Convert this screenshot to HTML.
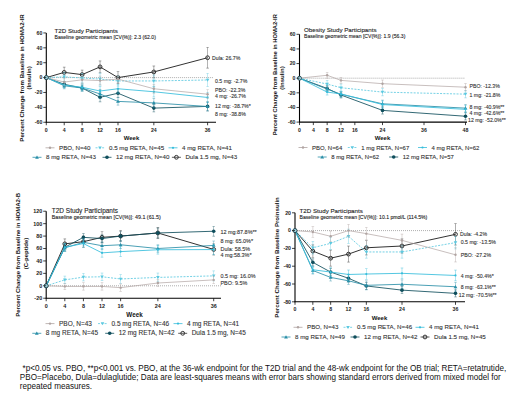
<!DOCTYPE html>
<html><head><meta charset="utf-8"><style>
html,body{margin:0;padding:0;background:#fff;}
body{width:520px;height:400px;overflow:hidden;position:relative;font-family:"Liberation Sans", sans-serif;}
svg{position:absolute;left:0;top:0;}
svg text{font-family:"Liberation Sans", sans-serif;}
.fn{position:absolute;font-size:8.15px;line-height:9.6px;color:#111;white-space:nowrap;}
</style></head><body>
<svg width="520" height="400" viewBox="0 0 520 400">
<rect width="520" height="400" fill="#fff"/>
<line x1="46.30" y1="77.60" x2="213.00" y2="77.60" stroke="#555" stroke-width="0.6" stroke-dasharray="0.8,1.2"/>
<line x1="64.22" y1="67.18" x2="64.22" y2="77.60" stroke="#333333" stroke-width="0.5" opacity="0.8"/>
<line x1="62.92" y1="67.18" x2="65.52" y2="67.18" stroke="#333333" stroke-width="0.5" opacity="0.8"/>
<line x1="62.92" y1="77.60" x2="65.52" y2="77.60" stroke="#333333" stroke-width="0.5" opacity="0.8"/>
<line x1="82.14" y1="70.16" x2="82.14" y2="79.09" stroke="#333333" stroke-width="0.5" opacity="0.8"/>
<line x1="80.84" y1="70.16" x2="83.44" y2="70.16" stroke="#333333" stroke-width="0.5" opacity="0.8"/>
<line x1="80.84" y1="79.09" x2="83.44" y2="79.09" stroke="#333333" stroke-width="0.5" opacity="0.8"/>
<line x1="100.07" y1="60.93" x2="100.07" y2="72.84" stroke="#333333" stroke-width="0.5" opacity="0.8"/>
<line x1="98.77" y1="60.93" x2="101.37" y2="60.93" stroke="#333333" stroke-width="0.5" opacity="0.8"/>
<line x1="98.77" y1="72.84" x2="101.37" y2="72.84" stroke="#333333" stroke-width="0.5" opacity="0.8"/>
<line x1="117.99" y1="71.65" x2="117.99" y2="83.55" stroke="#333333" stroke-width="0.5" opacity="0.8"/>
<line x1="116.69" y1="71.65" x2="119.29" y2="71.65" stroke="#333333" stroke-width="0.5" opacity="0.8"/>
<line x1="116.69" y1="83.55" x2="119.29" y2="83.55" stroke="#333333" stroke-width="0.5" opacity="0.8"/>
<line x1="153.83" y1="65.99" x2="153.83" y2="77.90" stroke="#333333" stroke-width="0.5" opacity="0.8"/>
<line x1="152.53" y1="65.99" x2="155.13" y2="65.99" stroke="#333333" stroke-width="0.5" opacity="0.8"/>
<line x1="152.53" y1="77.90" x2="155.13" y2="77.90" stroke="#333333" stroke-width="0.5" opacity="0.8"/>
<line x1="207.60" y1="47.31" x2="207.60" y2="68.15" stroke="#333333" stroke-width="0.5" opacity="0.8"/>
<line x1="206.30" y1="47.31" x2="208.90" y2="47.31" stroke="#333333" stroke-width="0.5" opacity="0.8"/>
<line x1="206.30" y1="68.15" x2="208.90" y2="68.15" stroke="#333333" stroke-width="0.5" opacity="0.8"/>
<polyline points="46.30,77.60 64.22,72.39 82.14,74.62 100.07,66.88 117.99,77.60 153.83,71.94 207.60,57.73" fill="none" stroke="#333333" stroke-width="1.0"/>
<circle cx="46.30" cy="77.60" r="1.9" fill="none" stroke="#333333" stroke-width="1.0"/>
<circle cx="64.22" cy="72.39" r="1.9" fill="none" stroke="#333333" stroke-width="1.0"/>
<circle cx="82.14" cy="74.62" r="1.9" fill="none" stroke="#333333" stroke-width="1.0"/>
<circle cx="100.07" cy="66.88" r="1.9" fill="none" stroke="#333333" stroke-width="1.0"/>
<circle cx="117.99" cy="77.60" r="1.9" fill="none" stroke="#333333" stroke-width="1.0"/>
<circle cx="153.83" cy="71.94" r="1.9" fill="none" stroke="#333333" stroke-width="1.0"/>
<circle cx="207.60" cy="57.73" r="1.9" fill="none" stroke="#333333" stroke-width="1.0"/>
<line x1="64.22" y1="81.32" x2="64.22" y2="87.27" stroke="#0f4e5c" stroke-width="0.5" opacity="0.8"/>
<line x1="62.92" y1="81.32" x2="65.52" y2="81.32" stroke="#0f4e5c" stroke-width="0.5" opacity="0.8"/>
<line x1="62.92" y1="87.27" x2="65.52" y2="87.27" stroke="#0f4e5c" stroke-width="0.5" opacity="0.8"/>
<line x1="82.14" y1="85.04" x2="82.14" y2="90.99" stroke="#0f4e5c" stroke-width="0.5" opacity="0.8"/>
<line x1="80.84" y1="85.04" x2="83.44" y2="85.04" stroke="#0f4e5c" stroke-width="0.5" opacity="0.8"/>
<line x1="80.84" y1="90.99" x2="83.44" y2="90.99" stroke="#0f4e5c" stroke-width="0.5" opacity="0.8"/>
<line x1="100.07" y1="92.86" x2="100.07" y2="101.79" stroke="#0f4e5c" stroke-width="0.5" opacity="0.8"/>
<line x1="98.77" y1="92.86" x2="101.37" y2="92.86" stroke="#0f4e5c" stroke-width="0.5" opacity="0.8"/>
<line x1="98.77" y1="101.79" x2="101.37" y2="101.79" stroke="#0f4e5c" stroke-width="0.5" opacity="0.8"/>
<line x1="117.99" y1="88.76" x2="117.99" y2="97.69" stroke="#0f4e5c" stroke-width="0.5" opacity="0.8"/>
<line x1="116.69" y1="88.76" x2="119.29" y2="88.76" stroke="#0f4e5c" stroke-width="0.5" opacity="0.8"/>
<line x1="116.69" y1="97.69" x2="119.29" y2="97.69" stroke="#0f4e5c" stroke-width="0.5" opacity="0.8"/>
<line x1="153.83" y1="104.39" x2="153.83" y2="111.83" stroke="#0f4e5c" stroke-width="0.5" opacity="0.8"/>
<line x1="152.53" y1="104.39" x2="155.13" y2="104.39" stroke="#0f4e5c" stroke-width="0.5" opacity="0.8"/>
<line x1="152.53" y1="111.83" x2="155.13" y2="111.83" stroke="#0f4e5c" stroke-width="0.5" opacity="0.8"/>
<line x1="207.60" y1="101.93" x2="207.60" y2="110.86" stroke="#0f4e5c" stroke-width="0.5" opacity="0.8"/>
<line x1="206.30" y1="101.93" x2="208.90" y2="101.93" stroke="#0f4e5c" stroke-width="0.5" opacity="0.8"/>
<line x1="206.30" y1="110.86" x2="208.90" y2="110.86" stroke="#0f4e5c" stroke-width="0.5" opacity="0.8"/>
<polyline points="46.30,77.60 64.22,84.30 82.14,88.02 100.07,97.32 117.99,93.23 153.83,108.11 207.60,106.40" fill="none" stroke="#0f4e5c" stroke-width="0.85"/>
<circle cx="46.30" cy="77.60" r="1.8" fill="#0f4e5c"/>
<circle cx="64.22" cy="84.30" r="1.8" fill="#0f4e5c"/>
<circle cx="82.14" cy="88.02" r="1.8" fill="#0f4e5c"/>
<circle cx="100.07" cy="97.32" r="1.8" fill="#0f4e5c"/>
<circle cx="117.99" cy="93.23" r="1.8" fill="#0f4e5c"/>
<circle cx="153.83" cy="108.11" r="1.8" fill="#0f4e5c"/>
<circle cx="207.60" cy="106.40" r="1.8" fill="#0f4e5c"/>
<line x1="64.22" y1="82.81" x2="64.22" y2="88.76" stroke="#2a8fa8" stroke-width="0.5" opacity="0.8"/>
<line x1="62.92" y1="82.81" x2="65.52" y2="82.81" stroke="#2a8fa8" stroke-width="0.5" opacity="0.8"/>
<line x1="62.92" y1="88.76" x2="65.52" y2="88.76" stroke="#2a8fa8" stroke-width="0.5" opacity="0.8"/>
<line x1="82.14" y1="85.04" x2="82.14" y2="90.99" stroke="#2a8fa8" stroke-width="0.5" opacity="0.8"/>
<line x1="80.84" y1="85.04" x2="83.44" y2="85.04" stroke="#2a8fa8" stroke-width="0.5" opacity="0.8"/>
<line x1="80.84" y1="90.99" x2="83.44" y2="90.99" stroke="#2a8fa8" stroke-width="0.5" opacity="0.8"/>
<line x1="100.07" y1="89.51" x2="100.07" y2="98.44" stroke="#2a8fa8" stroke-width="0.5" opacity="0.8"/>
<line x1="98.77" y1="89.51" x2="101.37" y2="89.51" stroke="#2a8fa8" stroke-width="0.5" opacity="0.8"/>
<line x1="98.77" y1="98.44" x2="101.37" y2="98.44" stroke="#2a8fa8" stroke-width="0.5" opacity="0.8"/>
<line x1="117.99" y1="97.69" x2="117.99" y2="105.13" stroke="#2a8fa8" stroke-width="0.5" opacity="0.8"/>
<line x1="116.69" y1="97.69" x2="119.29" y2="97.69" stroke="#2a8fa8" stroke-width="0.5" opacity="0.8"/>
<line x1="116.69" y1="105.13" x2="119.29" y2="105.13" stroke="#2a8fa8" stroke-width="0.5" opacity="0.8"/>
<line x1="153.83" y1="98.44" x2="153.83" y2="107.37" stroke="#2a8fa8" stroke-width="0.5" opacity="0.8"/>
<line x1="152.53" y1="98.44" x2="155.13" y2="98.44" stroke="#2a8fa8" stroke-width="0.5" opacity="0.8"/>
<line x1="152.53" y1="107.37" x2="155.13" y2="107.37" stroke="#2a8fa8" stroke-width="0.5" opacity="0.8"/>
<line x1="207.60" y1="102.01" x2="207.60" y2="110.94" stroke="#2a8fa8" stroke-width="0.5" opacity="0.8"/>
<line x1="206.30" y1="102.01" x2="208.90" y2="102.01" stroke="#2a8fa8" stroke-width="0.5" opacity="0.8"/>
<line x1="206.30" y1="110.94" x2="208.90" y2="110.94" stroke="#2a8fa8" stroke-width="0.5" opacity="0.8"/>
<polyline points="46.30,77.60 64.22,85.79 82.14,88.02 100.07,93.97 117.99,101.41 153.83,102.90 207.60,106.47" fill="none" stroke="#2a8fa8" stroke-width="0.85"/>
<path d="M44.40,79.00 L48.20,79.00 L46.30,75.80 Z" fill="#2a8fa8"/>
<path d="M62.32,87.19 L66.12,87.19 L64.22,83.99 Z" fill="#2a8fa8"/>
<path d="M80.24,89.42 L84.04,89.42 L82.14,86.22 Z" fill="#2a8fa8"/>
<path d="M98.17,95.37 L101.97,95.37 L100.07,92.17 Z" fill="#2a8fa8"/>
<path d="M116.09,102.81 L119.89,102.81 L117.99,99.61 Z" fill="#2a8fa8"/>
<path d="M151.93,104.30 L155.73,104.30 L153.83,101.10 Z" fill="#2a8fa8"/>
<path d="M205.70,107.87 L209.50,107.87 L207.60,104.67 Z" fill="#2a8fa8"/>
<line x1="64.22" y1="82.06" x2="64.22" y2="88.02" stroke="#35bddb" stroke-width="0.5" opacity="0.8"/>
<line x1="62.92" y1="82.06" x2="65.52" y2="82.06" stroke="#35bddb" stroke-width="0.5" opacity="0.8"/>
<line x1="62.92" y1="88.02" x2="65.52" y2="88.02" stroke="#35bddb" stroke-width="0.5" opacity="0.8"/>
<line x1="82.14" y1="83.55" x2="82.14" y2="90.99" stroke="#35bddb" stroke-width="0.5" opacity="0.8"/>
<line x1="80.84" y1="83.55" x2="83.44" y2="83.55" stroke="#35bddb" stroke-width="0.5" opacity="0.8"/>
<line x1="80.84" y1="90.99" x2="83.44" y2="90.99" stroke="#35bddb" stroke-width="0.5" opacity="0.8"/>
<line x1="100.07" y1="86.53" x2="100.07" y2="95.46" stroke="#35bddb" stroke-width="0.5" opacity="0.8"/>
<line x1="98.77" y1="86.53" x2="101.37" y2="86.53" stroke="#35bddb" stroke-width="0.5" opacity="0.8"/>
<line x1="98.77" y1="95.46" x2="101.37" y2="95.46" stroke="#35bddb" stroke-width="0.5" opacity="0.8"/>
<line x1="117.99" y1="84.30" x2="117.99" y2="93.23" stroke="#35bddb" stroke-width="0.5" opacity="0.8"/>
<line x1="116.69" y1="84.30" x2="119.29" y2="84.30" stroke="#35bddb" stroke-width="0.5" opacity="0.8"/>
<line x1="116.69" y1="93.23" x2="119.29" y2="93.23" stroke="#35bddb" stroke-width="0.5" opacity="0.8"/>
<line x1="153.83" y1="86.53" x2="153.83" y2="96.95" stroke="#35bddb" stroke-width="0.5" opacity="0.8"/>
<line x1="152.53" y1="86.53" x2="155.13" y2="86.53" stroke="#35bddb" stroke-width="0.5" opacity="0.8"/>
<line x1="152.53" y1="96.95" x2="155.13" y2="96.95" stroke="#35bddb" stroke-width="0.5" opacity="0.8"/>
<line x1="207.60" y1="92.26" x2="207.60" y2="102.68" stroke="#35bddb" stroke-width="0.5" opacity="0.8"/>
<line x1="206.30" y1="92.26" x2="208.90" y2="92.26" stroke="#35bddb" stroke-width="0.5" opacity="0.8"/>
<line x1="206.30" y1="102.68" x2="208.90" y2="102.68" stroke="#35bddb" stroke-width="0.5" opacity="0.8"/>
<polyline points="46.30,77.60 64.22,85.04 82.14,87.27 100.07,90.99 117.99,88.76 153.83,91.74 207.60,97.47" fill="none" stroke="#35bddb" stroke-width="0.85"/>
<circle cx="46.30" cy="77.60" r="1.1" fill="#35bddb"/>
<circle cx="64.22" cy="85.04" r="1.1" fill="#35bddb"/>
<circle cx="82.14" cy="87.27" r="1.1" fill="#35bddb"/>
<circle cx="100.07" cy="90.99" r="1.1" fill="#35bddb"/>
<circle cx="117.99" cy="88.76" r="1.1" fill="#35bddb"/>
<circle cx="153.83" cy="91.74" r="1.1" fill="#35bddb"/>
<circle cx="207.60" cy="97.47" r="1.1" fill="#35bddb"/>
<line x1="64.22" y1="72.39" x2="64.22" y2="81.32" stroke="#5cc9e0" stroke-width="0.5" opacity="0.8"/>
<line x1="62.92" y1="72.39" x2="65.52" y2="72.39" stroke="#5cc9e0" stroke-width="0.5" opacity="0.8"/>
<line x1="62.92" y1="81.32" x2="65.52" y2="81.32" stroke="#5cc9e0" stroke-width="0.5" opacity="0.8"/>
<line x1="82.14" y1="73.51" x2="82.14" y2="82.44" stroke="#5cc9e0" stroke-width="0.5" opacity="0.8"/>
<line x1="80.84" y1="73.51" x2="83.44" y2="73.51" stroke="#5cc9e0" stroke-width="0.5" opacity="0.8"/>
<line x1="80.84" y1="82.44" x2="83.44" y2="82.44" stroke="#5cc9e0" stroke-width="0.5" opacity="0.8"/>
<line x1="100.07" y1="73.13" x2="100.07" y2="85.04" stroke="#5cc9e0" stroke-width="0.5" opacity="0.8"/>
<line x1="98.77" y1="73.13" x2="101.37" y2="73.13" stroke="#5cc9e0" stroke-width="0.5" opacity="0.8"/>
<line x1="98.77" y1="85.04" x2="101.37" y2="85.04" stroke="#5cc9e0" stroke-width="0.5" opacity="0.8"/>
<line x1="117.99" y1="75.74" x2="117.99" y2="86.16" stroke="#5cc9e0" stroke-width="0.5" opacity="0.8"/>
<line x1="116.69" y1="75.74" x2="119.29" y2="75.74" stroke="#5cc9e0" stroke-width="0.5" opacity="0.8"/>
<line x1="116.69" y1="86.16" x2="119.29" y2="86.16" stroke="#5cc9e0" stroke-width="0.5" opacity="0.8"/>
<line x1="153.83" y1="75.00" x2="153.83" y2="86.90" stroke="#5cc9e0" stroke-width="0.5" opacity="0.8"/>
<line x1="152.53" y1="75.00" x2="155.13" y2="75.00" stroke="#5cc9e0" stroke-width="0.5" opacity="0.8"/>
<line x1="152.53" y1="86.90" x2="155.13" y2="86.90" stroke="#5cc9e0" stroke-width="0.5" opacity="0.8"/>
<line x1="207.60" y1="73.28" x2="207.60" y2="86.68" stroke="#5cc9e0" stroke-width="0.5" opacity="0.8"/>
<line x1="206.30" y1="73.28" x2="208.90" y2="73.28" stroke="#5cc9e0" stroke-width="0.5" opacity="0.8"/>
<line x1="206.30" y1="86.68" x2="208.90" y2="86.68" stroke="#5cc9e0" stroke-width="0.5" opacity="0.8"/>
<polyline points="46.30,77.60 64.22,76.86 82.14,77.97 100.07,79.09 117.99,80.95 153.83,80.95 207.60,79.98" fill="none" stroke="#5cc9e0" stroke-width="0.85" stroke-dasharray="2,1.3"/>
<path d="M44.50,76.30 L48.10,76.30 L46.30,79.30 Z" fill="#5cc9e0"/>
<path d="M62.42,75.56 L66.02,75.56 L64.22,78.56 Z" fill="#5cc9e0"/>
<path d="M80.34,76.67 L83.94,76.67 L82.14,79.67 Z" fill="#5cc9e0"/>
<path d="M98.27,77.79 L101.87,77.79 L100.07,80.79 Z" fill="#5cc9e0"/>
<path d="M116.19,79.65 L119.79,79.65 L117.99,82.65 Z" fill="#5cc9e0"/>
<path d="M152.03,79.65 L155.63,79.65 L153.83,82.65 Z" fill="#5cc9e0"/>
<path d="M205.80,78.68 L209.40,78.68 L207.60,81.68 Z" fill="#5cc9e0"/>
<line x1="64.22" y1="78.34" x2="64.22" y2="85.79" stroke="#b0a4a2" stroke-width="0.5" opacity="0.8"/>
<line x1="62.92" y1="78.34" x2="65.52" y2="78.34" stroke="#b0a4a2" stroke-width="0.5" opacity="0.8"/>
<line x1="62.92" y1="85.79" x2="65.52" y2="85.79" stroke="#b0a4a2" stroke-width="0.5" opacity="0.8"/>
<line x1="82.14" y1="76.11" x2="82.14" y2="83.55" stroke="#b0a4a2" stroke-width="0.5" opacity="0.8"/>
<line x1="80.84" y1="76.11" x2="83.44" y2="76.11" stroke="#b0a4a2" stroke-width="0.5" opacity="0.8"/>
<line x1="80.84" y1="83.55" x2="83.44" y2="83.55" stroke="#b0a4a2" stroke-width="0.5" opacity="0.8"/>
<line x1="100.07" y1="76.11" x2="100.07" y2="85.04" stroke="#b0a4a2" stroke-width="0.5" opacity="0.8"/>
<line x1="98.77" y1="76.11" x2="101.37" y2="76.11" stroke="#b0a4a2" stroke-width="0.5" opacity="0.8"/>
<line x1="98.77" y1="85.04" x2="101.37" y2="85.04" stroke="#b0a4a2" stroke-width="0.5" opacity="0.8"/>
<line x1="117.99" y1="75.37" x2="117.99" y2="82.81" stroke="#b0a4a2" stroke-width="0.5" opacity="0.8"/>
<line x1="116.69" y1="75.37" x2="119.29" y2="75.37" stroke="#b0a4a2" stroke-width="0.5" opacity="0.8"/>
<line x1="116.69" y1="82.81" x2="119.29" y2="82.81" stroke="#b0a4a2" stroke-width="0.5" opacity="0.8"/>
<line x1="153.83" y1="84.30" x2="153.83" y2="93.23" stroke="#b0a4a2" stroke-width="0.5" opacity="0.8"/>
<line x1="152.53" y1="84.30" x2="155.13" y2="84.30" stroke="#b0a4a2" stroke-width="0.5" opacity="0.8"/>
<line x1="152.53" y1="93.23" x2="155.13" y2="93.23" stroke="#b0a4a2" stroke-width="0.5" opacity="0.8"/>
<line x1="207.60" y1="89.73" x2="207.60" y2="98.66" stroke="#b0a4a2" stroke-width="0.5" opacity="0.8"/>
<line x1="206.30" y1="89.73" x2="208.90" y2="89.73" stroke="#b0a4a2" stroke-width="0.5" opacity="0.8"/>
<line x1="206.30" y1="98.66" x2="208.90" y2="98.66" stroke="#b0a4a2" stroke-width="0.5" opacity="0.8"/>
<polyline points="46.30,77.60 64.22,82.06 82.14,79.83 100.07,80.58 117.99,79.09 153.83,88.76 207.60,94.19" fill="none" stroke="#b0a4a2" stroke-width="0.7"/>
<circle cx="46.30" cy="77.60" r="1.2" fill="#b0a4a2"/>
<circle cx="64.22" cy="82.06" r="1.2" fill="#b0a4a2"/>
<circle cx="82.14" cy="79.83" r="1.2" fill="#b0a4a2"/>
<circle cx="100.07" cy="80.58" r="1.2" fill="#b0a4a2"/>
<circle cx="117.99" cy="79.09" r="1.2" fill="#b0a4a2"/>
<circle cx="153.83" cy="88.76" r="1.2" fill="#b0a4a2"/>
<circle cx="207.60" cy="94.19" r="1.2" fill="#b0a4a2"/>
<line x1="46.30" y1="32.95" x2="46.30" y2="122.75" stroke="#000" stroke-width="1.1"/>
<line x1="45.80" y1="122.25" x2="216.00" y2="122.25" stroke="#000" stroke-width="1.1"/>
<circle cx="46.30" cy="77.60" r="2.0" fill="#a3d6e2" stroke="#1d3f4a" stroke-width="0.8"/>
<line x1="43.30" y1="122.25" x2="46.30" y2="122.25" stroke="#111" stroke-width="0.8"/>
<text x="42.30" y="124.05" font-size="5.2" text-anchor="end" font-weight="bold" fill="#222" >-60</text>
<line x1="43.30" y1="107.37" x2="46.30" y2="107.37" stroke="#111" stroke-width="0.8"/>
<text x="42.30" y="109.17" font-size="5.2" text-anchor="end" font-weight="bold" fill="#222" >-40</text>
<line x1="43.30" y1="92.48" x2="46.30" y2="92.48" stroke="#111" stroke-width="0.8"/>
<text x="42.30" y="94.28" font-size="5.2" text-anchor="end" font-weight="bold" fill="#222" >-20</text>
<line x1="43.30" y1="77.60" x2="46.30" y2="77.60" stroke="#111" stroke-width="0.8"/>
<text x="42.30" y="79.40" font-size="5.2" text-anchor="end" font-weight="bold" fill="#222" >0</text>
<line x1="43.30" y1="62.72" x2="46.30" y2="62.72" stroke="#111" stroke-width="0.8"/>
<text x="42.30" y="64.52" font-size="5.2" text-anchor="end" font-weight="bold" fill="#222" >20</text>
<line x1="43.30" y1="47.83" x2="46.30" y2="47.83" stroke="#111" stroke-width="0.8"/>
<text x="42.30" y="49.63" font-size="5.2" text-anchor="end" font-weight="bold" fill="#222" >40</text>
<line x1="43.30" y1="32.95" x2="46.30" y2="32.95" stroke="#111" stroke-width="0.8"/>
<text x="42.30" y="34.75" font-size="5.2" text-anchor="end" font-weight="bold" fill="#222" >60</text>
<line x1="46.30" y1="122.25" x2="46.30" y2="125.25" stroke="#111" stroke-width="0.8"/>
<text x="46.30" y="131.85" font-size="5.2" text-anchor="middle" font-weight="bold" fill="#222" >0</text>
<line x1="64.22" y1="122.25" x2="64.22" y2="125.25" stroke="#111" stroke-width="0.8"/>
<text x="64.22" y="131.85" font-size="5.2" text-anchor="middle" font-weight="bold" fill="#222" >4</text>
<line x1="82.14" y1="122.25" x2="82.14" y2="125.25" stroke="#111" stroke-width="0.8"/>
<text x="82.14" y="131.85" font-size="5.2" text-anchor="middle" font-weight="bold" fill="#222" >8</text>
<line x1="100.07" y1="122.25" x2="100.07" y2="125.25" stroke="#111" stroke-width="0.8"/>
<text x="100.07" y="131.85" font-size="5.2" text-anchor="middle" font-weight="bold" fill="#222" >12</text>
<line x1="117.99" y1="122.25" x2="117.99" y2="125.25" stroke="#111" stroke-width="0.8"/>
<text x="117.99" y="131.85" font-size="5.2" text-anchor="middle" font-weight="bold" fill="#222" >16</text>
<line x1="153.83" y1="122.25" x2="153.83" y2="125.25" stroke="#111" stroke-width="0.8"/>
<text x="153.83" y="131.85" font-size="5.2" text-anchor="middle" font-weight="bold" fill="#222" >24</text>
<line x1="207.60" y1="122.25" x2="207.60" y2="125.25" stroke="#111" stroke-width="0.8"/>
<text x="207.60" y="131.85" font-size="5.2" text-anchor="middle" font-weight="bold" fill="#222" >36</text>
<text x="131.50" y="140.00" font-size="6.0" text-anchor="middle" font-weight="bold" fill="#111" >Week</text>
<text x="54.50" y="33.20" font-size="6.2" text-anchor="start" font-weight="normal" fill="#222" stroke="#222" stroke-width="0.1" >T2D Study Participants</text>
<text x="54.50" y="39.20" font-size="5.1" text-anchor="start" font-weight="normal" fill="#222" stroke="#222" stroke-width="0.1" >Baseline geometric mean [CV(%)]: 2.3 (62.0)</text>
<text x="212.00" y="59.80" font-size="5.2" text-anchor="start" font-weight="normal" fill="#333" stroke="#333" stroke-width="0.1" >Dula: 26.7%</text>
<text x="215.00" y="82.80" font-size="5.2" text-anchor="start" font-weight="normal" fill="#333" stroke="#333" stroke-width="0.1" >0.5 mg: -2.7%</text>
<text x="215.00" y="91.80" font-size="5.2" text-anchor="start" font-weight="normal" fill="#333" stroke="#333" stroke-width="0.1" >PBO: -22.3%</text>
<text x="215.00" y="98.30" font-size="5.2" text-anchor="start" font-weight="normal" fill="#333" stroke="#333" stroke-width="0.1" >4 mg: -26.7%</text>
<text x="215.00" y="107.80" font-size="5.2" text-anchor="start" font-weight="normal" fill="#333" stroke="#333" stroke-width="0.1" >12 mg: -38.7%*</text>
<text x="215.00" y="116.30" font-size="5.2" text-anchor="start" font-weight="normal" fill="#333" stroke="#333" stroke-width="0.1" >8 mg: -38.8%</text>
<text x="0" y="0" font-size="6.1" font-weight="bold" text-anchor="middle" fill="#111" transform="translate(23.60,78.00) rotate(-90)">Percent Change from Baseline in HOMA2-IR</text>
<text x="0" y="0" font-size="6.0" font-weight="bold" text-anchor="middle" fill="#111" transform="translate(30.90,77.90) rotate(-90)">(Insulin)</text>
<line x1="45.50" y1="147.80" x2="54.50" y2="147.80" stroke="#b0a4a2" stroke-width="0.8"/>
<circle cx="50.00" cy="147.80" r="1.2" fill="#b0a4a2"/>
<text x="59.00" y="149.90" font-size="6.2" text-anchor="start" font-weight="normal" fill="#333" stroke="#333" stroke-width="0.1" >PBO, N=40</text>
<line x1="95.50" y1="147.80" x2="104.50" y2="147.80" stroke="#5cc9e0" stroke-width="0.8" stroke-dasharray="2,1.3"/>
<path d="M98.20,146.50 L101.80,146.50 L100.00,149.50 Z" fill="#5cc9e0"/>
<text x="109.00" y="149.90" font-size="6.2" text-anchor="start" font-weight="normal" fill="#333" stroke="#333" stroke-width="0.1" >0.5 mg RETA, N=45</text>
<line x1="168.50" y1="147.80" x2="177.50" y2="147.80" stroke="#35bddb" stroke-width="0.8"/>
<circle cx="173.00" cy="147.80" r="1.1" fill="#35bddb"/>
<text x="182.00" y="149.90" font-size="6.2" text-anchor="start" font-weight="normal" fill="#333" stroke="#333" stroke-width="0.1" >4 mg RETA, N=41</text>
<line x1="32.50" y1="157.30" x2="41.50" y2="157.30" stroke="#2a8fa8" stroke-width="0.8"/>
<path d="M35.10,158.70 L38.90,158.70 L37.00,155.50 Z" fill="#2a8fa8"/>
<text x="46.00" y="159.40" font-size="6.2" text-anchor="start" font-weight="normal" fill="#333" stroke="#333" stroke-width="0.1" >8 mg RETA, N=43</text>
<line x1="102.50" y1="157.30" x2="111.50" y2="157.30" stroke="#0f4e5c" stroke-width="0.8"/>
<circle cx="107.00" cy="157.30" r="1.8" fill="#0f4e5c"/>
<text x="116.00" y="159.40" font-size="6.2" text-anchor="start" font-weight="normal" fill="#333" stroke="#333" stroke-width="0.1" >12 mg RETA, N=40</text>
<line x1="171.90" y1="157.30" x2="180.90" y2="157.30" stroke="#333333" stroke-width="0.8"/>
<circle cx="176.40" cy="157.30" r="1.9" fill="none" stroke="#333333" stroke-width="1.0"/>
<text x="185.40" y="159.40" font-size="6.2" text-anchor="start" font-weight="normal" fill="#333" stroke="#333" stroke-width="0.1" >Dula 1.5 mg, N=43</text>
<line x1="299.50" y1="78.20" x2="465.00" y2="78.20" stroke="#555" stroke-width="0.6" stroke-dasharray="0.8,1.2"/>
<line x1="327.17" y1="85.52" x2="327.17" y2="91.37" stroke="#0f4e5c" stroke-width="0.5" opacity="0.8"/>
<line x1="325.87" y1="85.52" x2="328.47" y2="85.52" stroke="#0f4e5c" stroke-width="0.5" opacity="0.8"/>
<line x1="325.87" y1="91.37" x2="328.47" y2="91.37" stroke="#0f4e5c" stroke-width="0.5" opacity="0.8"/>
<line x1="341.00" y1="92.10" x2="341.00" y2="97.95" stroke="#0f4e5c" stroke-width="0.5" opacity="0.8"/>
<line x1="339.70" y1="92.10" x2="342.30" y2="92.10" stroke="#0f4e5c" stroke-width="0.5" opacity="0.8"/>
<line x1="339.70" y1="97.95" x2="342.30" y2="97.95" stroke="#0f4e5c" stroke-width="0.5" opacity="0.8"/>
<line x1="382.50" y1="106.73" x2="382.50" y2="114.05" stroke="#0f4e5c" stroke-width="0.5" opacity="0.8"/>
<line x1="381.20" y1="106.73" x2="383.80" y2="106.73" stroke="#0f4e5c" stroke-width="0.5" opacity="0.8"/>
<line x1="381.20" y1="114.05" x2="383.80" y2="114.05" stroke="#0f4e5c" stroke-width="0.5" opacity="0.8"/>
<line x1="465.50" y1="112.59" x2="465.50" y2="119.91" stroke="#0f4e5c" stroke-width="0.5" opacity="0.8"/>
<line x1="464.20" y1="112.59" x2="466.80" y2="112.59" stroke="#0f4e5c" stroke-width="0.5" opacity="0.8"/>
<line x1="464.20" y1="119.91" x2="466.80" y2="119.91" stroke="#0f4e5c" stroke-width="0.5" opacity="0.8"/>
<polyline points="299.50,78.20 327.17,88.44 341.00,95.03 382.50,110.39 465.50,116.25" fill="none" stroke="#0f4e5c" stroke-width="0.85"/>
<circle cx="299.50" cy="78.20" r="1.8" fill="#0f4e5c"/>
<circle cx="327.17" cy="88.44" r="1.8" fill="#0f4e5c"/>
<circle cx="341.00" cy="95.03" r="1.8" fill="#0f4e5c"/>
<circle cx="382.50" cy="110.39" r="1.8" fill="#0f4e5c"/>
<circle cx="465.50" cy="116.25" r="1.8" fill="#0f4e5c"/>
<line x1="327.17" y1="86.25" x2="327.17" y2="92.10" stroke="#2a8fa8" stroke-width="0.5" opacity="0.8"/>
<line x1="325.87" y1="86.25" x2="328.47" y2="86.25" stroke="#2a8fa8" stroke-width="0.5" opacity="0.8"/>
<line x1="325.87" y1="92.10" x2="328.47" y2="92.10" stroke="#2a8fa8" stroke-width="0.5" opacity="0.8"/>
<line x1="341.00" y1="91.37" x2="341.00" y2="97.22" stroke="#2a8fa8" stroke-width="0.5" opacity="0.8"/>
<line x1="339.70" y1="91.37" x2="342.30" y2="91.37" stroke="#2a8fa8" stroke-width="0.5" opacity="0.8"/>
<line x1="339.70" y1="97.22" x2="342.30" y2="97.22" stroke="#2a8fa8" stroke-width="0.5" opacity="0.8"/>
<line x1="382.50" y1="100.15" x2="382.50" y2="107.47" stroke="#2a8fa8" stroke-width="0.5" opacity="0.8"/>
<line x1="381.20" y1="100.15" x2="383.80" y2="100.15" stroke="#2a8fa8" stroke-width="0.5" opacity="0.8"/>
<line x1="381.20" y1="107.47" x2="383.80" y2="107.47" stroke="#2a8fa8" stroke-width="0.5" opacity="0.8"/>
<line x1="465.50" y1="104.47" x2="465.50" y2="111.78" stroke="#2a8fa8" stroke-width="0.5" opacity="0.8"/>
<line x1="464.20" y1="104.47" x2="466.80" y2="104.47" stroke="#2a8fa8" stroke-width="0.5" opacity="0.8"/>
<line x1="464.20" y1="111.78" x2="466.80" y2="111.78" stroke="#2a8fa8" stroke-width="0.5" opacity="0.8"/>
<polyline points="299.50,78.20 327.17,89.17 341.00,94.30 382.50,103.81 465.50,108.13" fill="none" stroke="#2a8fa8" stroke-width="0.85"/>
<path d="M297.60,79.60 L301.40,79.60 L299.50,76.40 Z" fill="#2a8fa8"/>
<path d="M325.27,90.58 L329.07,90.58 L327.17,87.38 Z" fill="#2a8fa8"/>
<path d="M339.10,95.70 L342.90,95.70 L341.00,92.50 Z" fill="#2a8fa8"/>
<path d="M380.60,105.21 L384.40,105.21 L382.50,102.01 Z" fill="#2a8fa8"/>
<path d="M463.60,109.53 L467.40,109.53 L465.50,106.33 Z" fill="#2a8fa8"/>
<line x1="327.17" y1="89.17" x2="327.17" y2="95.03" stroke="#35bddb" stroke-width="0.5" opacity="0.8"/>
<line x1="325.87" y1="89.17" x2="328.47" y2="89.17" stroke="#35bddb" stroke-width="0.5" opacity="0.8"/>
<line x1="325.87" y1="95.03" x2="328.47" y2="95.03" stroke="#35bddb" stroke-width="0.5" opacity="0.8"/>
<line x1="341.00" y1="91.00" x2="341.00" y2="96.86" stroke="#35bddb" stroke-width="0.5" opacity="0.8"/>
<line x1="339.70" y1="91.00" x2="342.30" y2="91.00" stroke="#35bddb" stroke-width="0.5" opacity="0.8"/>
<line x1="339.70" y1="96.86" x2="342.30" y2="96.86" stroke="#35bddb" stroke-width="0.5" opacity="0.8"/>
<line x1="382.50" y1="100.88" x2="382.50" y2="108.20" stroke="#35bddb" stroke-width="0.5" opacity="0.8"/>
<line x1="381.20" y1="100.88" x2="383.80" y2="100.88" stroke="#35bddb" stroke-width="0.5" opacity="0.8"/>
<line x1="381.20" y1="108.20" x2="383.80" y2="108.20" stroke="#35bddb" stroke-width="0.5" opacity="0.8"/>
<line x1="465.50" y1="105.71" x2="465.50" y2="113.03" stroke="#35bddb" stroke-width="0.5" opacity="0.8"/>
<line x1="464.20" y1="105.71" x2="466.80" y2="105.71" stroke="#35bddb" stroke-width="0.5" opacity="0.8"/>
<line x1="464.20" y1="113.03" x2="466.80" y2="113.03" stroke="#35bddb" stroke-width="0.5" opacity="0.8"/>
<polyline points="299.50,78.20 327.17,92.10 341.00,93.93 382.50,104.54 465.50,109.37" fill="none" stroke="#35bddb" stroke-width="0.85"/>
<circle cx="299.50" cy="78.20" r="1.1" fill="#35bddb"/>
<circle cx="327.17" cy="92.10" r="1.1" fill="#35bddb"/>
<circle cx="341.00" cy="93.93" r="1.1" fill="#35bddb"/>
<circle cx="382.50" cy="104.54" r="1.1" fill="#35bddb"/>
<circle cx="465.50" cy="109.37" r="1.1" fill="#35bddb"/>
<line x1="327.17" y1="80.40" x2="327.17" y2="87.71" stroke="#5cc9e0" stroke-width="0.5" opacity="0.8"/>
<line x1="325.87" y1="80.40" x2="328.47" y2="80.40" stroke="#5cc9e0" stroke-width="0.5" opacity="0.8"/>
<line x1="325.87" y1="87.71" x2="328.47" y2="87.71" stroke="#5cc9e0" stroke-width="0.5" opacity="0.8"/>
<line x1="341.00" y1="84.05" x2="341.00" y2="91.37" stroke="#5cc9e0" stroke-width="0.5" opacity="0.8"/>
<line x1="339.70" y1="84.05" x2="342.30" y2="84.05" stroke="#5cc9e0" stroke-width="0.5" opacity="0.8"/>
<line x1="339.70" y1="91.37" x2="342.30" y2="91.37" stroke="#5cc9e0" stroke-width="0.5" opacity="0.8"/>
<line x1="382.50" y1="88.44" x2="382.50" y2="95.76" stroke="#5cc9e0" stroke-width="0.5" opacity="0.8"/>
<line x1="381.20" y1="88.44" x2="383.80" y2="88.44" stroke="#5cc9e0" stroke-width="0.5" opacity="0.8"/>
<line x1="381.20" y1="95.76" x2="383.80" y2="95.76" stroke="#5cc9e0" stroke-width="0.5" opacity="0.8"/>
<line x1="465.50" y1="90.49" x2="465.50" y2="97.81" stroke="#5cc9e0" stroke-width="0.5" opacity="0.8"/>
<line x1="464.20" y1="90.49" x2="466.80" y2="90.49" stroke="#5cc9e0" stroke-width="0.5" opacity="0.8"/>
<line x1="464.20" y1="97.81" x2="466.80" y2="97.81" stroke="#5cc9e0" stroke-width="0.5" opacity="0.8"/>
<polyline points="299.50,78.20 327.17,84.05 341.00,87.71 382.50,92.10 465.50,94.15" fill="none" stroke="#5cc9e0" stroke-width="0.85" stroke-dasharray="2,1.3"/>
<path d="M297.70,76.90 L301.30,76.90 L299.50,79.90 Z" fill="#5cc9e0"/>
<path d="M325.37,82.75 L328.97,82.75 L327.17,85.75 Z" fill="#5cc9e0"/>
<path d="M339.20,86.41 L342.80,86.41 L341.00,89.41 Z" fill="#5cc9e0"/>
<path d="M380.70,90.80 L384.30,90.80 L382.50,93.80 Z" fill="#5cc9e0"/>
<path d="M463.70,92.85 L467.30,92.85 L465.50,95.85 Z" fill="#5cc9e0"/>
<line x1="327.17" y1="72.35" x2="327.17" y2="78.20" stroke="#b0a4a2" stroke-width="0.5" opacity="0.8"/>
<line x1="325.87" y1="72.35" x2="328.47" y2="72.35" stroke="#b0a4a2" stroke-width="0.5" opacity="0.8"/>
<line x1="325.87" y1="78.20" x2="328.47" y2="78.20" stroke="#b0a4a2" stroke-width="0.5" opacity="0.8"/>
<line x1="341.00" y1="77.47" x2="341.00" y2="83.32" stroke="#b0a4a2" stroke-width="0.5" opacity="0.8"/>
<line x1="339.70" y1="77.47" x2="342.30" y2="77.47" stroke="#b0a4a2" stroke-width="0.5" opacity="0.8"/>
<line x1="339.70" y1="83.32" x2="342.30" y2="83.32" stroke="#b0a4a2" stroke-width="0.5" opacity="0.8"/>
<line x1="382.50" y1="80.03" x2="382.50" y2="87.35" stroke="#b0a4a2" stroke-width="0.5" opacity="0.8"/>
<line x1="381.20" y1="80.03" x2="383.80" y2="80.03" stroke="#b0a4a2" stroke-width="0.5" opacity="0.8"/>
<line x1="381.20" y1="87.35" x2="383.80" y2="87.35" stroke="#b0a4a2" stroke-width="0.5" opacity="0.8"/>
<line x1="465.50" y1="83.54" x2="465.50" y2="90.86" stroke="#b0a4a2" stroke-width="0.5" opacity="0.8"/>
<line x1="464.20" y1="83.54" x2="466.80" y2="83.54" stroke="#b0a4a2" stroke-width="0.5" opacity="0.8"/>
<line x1="464.20" y1="90.86" x2="466.80" y2="90.86" stroke="#b0a4a2" stroke-width="0.5" opacity="0.8"/>
<polyline points="299.50,78.20 327.17,75.27 341.00,80.40 382.50,83.69 465.50,87.20" fill="none" stroke="#b0a4a2" stroke-width="0.7"/>
<circle cx="299.50" cy="78.20" r="1.2" fill="#b0a4a2"/>
<circle cx="327.17" cy="75.27" r="1.2" fill="#b0a4a2"/>
<circle cx="341.00" cy="80.40" r="1.2" fill="#b0a4a2"/>
<circle cx="382.50" cy="83.69" r="1.2" fill="#b0a4a2"/>
<circle cx="465.50" cy="87.20" r="1.2" fill="#b0a4a2"/>
<line x1="299.50" y1="34.30" x2="299.50" y2="122.60" stroke="#000" stroke-width="1.1"/>
<line x1="299.00" y1="122.10" x2="467.00" y2="122.10" stroke="#000" stroke-width="1.1"/>
<circle cx="299.50" cy="78.20" r="2.0" fill="#a3d6e2" stroke="#1d3f4a" stroke-width="0.8"/>
<line x1="296.50" y1="122.10" x2="299.50" y2="122.10" stroke="#111" stroke-width="0.8"/>
<text x="295.50" y="123.90" font-size="5.2" text-anchor="end" font-weight="bold" fill="#222" >-60</text>
<line x1="296.50" y1="107.47" x2="299.50" y2="107.47" stroke="#111" stroke-width="0.8"/>
<text x="295.50" y="109.27" font-size="5.2" text-anchor="end" font-weight="bold" fill="#222" >-40</text>
<line x1="296.50" y1="92.83" x2="299.50" y2="92.83" stroke="#111" stroke-width="0.8"/>
<text x="295.50" y="94.63" font-size="5.2" text-anchor="end" font-weight="bold" fill="#222" >-20</text>
<line x1="296.50" y1="78.20" x2="299.50" y2="78.20" stroke="#111" stroke-width="0.8"/>
<text x="295.50" y="80.00" font-size="5.2" text-anchor="end" font-weight="bold" fill="#222" >0</text>
<line x1="296.50" y1="63.57" x2="299.50" y2="63.57" stroke="#111" stroke-width="0.8"/>
<text x="295.50" y="65.37" font-size="5.2" text-anchor="end" font-weight="bold" fill="#222" >20</text>
<line x1="296.50" y1="48.93" x2="299.50" y2="48.93" stroke="#111" stroke-width="0.8"/>
<text x="295.50" y="50.73" font-size="5.2" text-anchor="end" font-weight="bold" fill="#222" >40</text>
<line x1="296.50" y1="34.30" x2="299.50" y2="34.30" stroke="#111" stroke-width="0.8"/>
<text x="295.50" y="36.10" font-size="5.2" text-anchor="end" font-weight="bold" fill="#222" >60</text>
<line x1="299.50" y1="122.10" x2="299.50" y2="125.10" stroke="#111" stroke-width="0.8"/>
<text x="299.50" y="131.70" font-size="5.2" text-anchor="middle" font-weight="bold" fill="#222" >0</text>
<line x1="313.33" y1="122.10" x2="313.33" y2="125.10" stroke="#111" stroke-width="0.8"/>
<text x="313.33" y="131.70" font-size="5.2" text-anchor="middle" font-weight="bold" fill="#222" >4</text>
<line x1="327.17" y1="122.10" x2="327.17" y2="125.10" stroke="#111" stroke-width="0.8"/>
<text x="327.17" y="131.70" font-size="5.2" text-anchor="middle" font-weight="bold" fill="#222" >8</text>
<line x1="341.00" y1="122.10" x2="341.00" y2="125.10" stroke="#111" stroke-width="0.8"/>
<text x="341.00" y="131.70" font-size="5.2" text-anchor="middle" font-weight="bold" fill="#222" >12</text>
<line x1="354.83" y1="122.10" x2="354.83" y2="125.10" stroke="#111" stroke-width="0.8"/>
<text x="354.83" y="131.70" font-size="5.2" text-anchor="middle" font-weight="bold" fill="#222" >16</text>
<line x1="382.50" y1="122.10" x2="382.50" y2="125.10" stroke="#111" stroke-width="0.8"/>
<text x="382.50" y="131.70" font-size="5.2" text-anchor="middle" font-weight="bold" fill="#222" >24</text>
<line x1="424.00" y1="122.10" x2="424.00" y2="125.10" stroke="#111" stroke-width="0.8"/>
<text x="424.00" y="131.70" font-size="5.2" text-anchor="middle" font-weight="bold" fill="#222" >36</text>
<line x1="465.50" y1="122.10" x2="465.50" y2="125.10" stroke="#111" stroke-width="0.8"/>
<text x="465.50" y="131.70" font-size="5.2" text-anchor="middle" font-weight="bold" fill="#222" >48</text>
<text x="382.50" y="140.00" font-size="6.0" text-anchor="middle" font-weight="bold" fill="#111" >Week</text>
<text x="304.00" y="32.40" font-size="6.2" text-anchor="start" font-weight="normal" fill="#222" stroke="#222" stroke-width="0.1" >Obesity Study Participants</text>
<text x="304.00" y="38.40" font-size="5.1" text-anchor="start" font-weight="normal" fill="#222" stroke="#222" stroke-width="0.1" >Baseline geometric mean [CV(%)]: 1.9 (56.3)</text>
<text x="469.50" y="88.10" font-size="5.2" text-anchor="start" font-weight="normal" fill="#333" stroke="#333" stroke-width="0.1" >PBO: -12.3%</text>
<text x="469.50" y="96.80" font-size="5.2" text-anchor="start" font-weight="normal" fill="#333" stroke="#333" stroke-width="0.1" >1 mg: -21.8%</text>
<text x="469.50" y="108.60" font-size="5.2" text-anchor="start" font-weight="normal" fill="#333" stroke="#333" stroke-width="0.1" >8 mg: -40.9%**</text>
<text x="469.50" y="114.80" font-size="5.2" text-anchor="start" font-weight="normal" fill="#333" stroke="#333" stroke-width="0.1" >4 mg: -42.6%**</text>
<text x="468.00" y="121.80" font-size="5.2" text-anchor="start" font-weight="normal" fill="#333" stroke="#333" stroke-width="0.1" >12 mg: -52.0%**</text>
<text x="0" y="0" font-size="5.8" font-weight="bold" text-anchor="middle" fill="#111" transform="translate(276.50,74.70) rotate(-90)">Percent Change from Baseline in HOMA2-IR</text>
<text x="0" y="0" font-size="6.0" font-weight="bold" text-anchor="middle" fill="#111" transform="translate(283.90,78.00) rotate(-90)">(Insulin)</text>
<line x1="298.50" y1="147.50" x2="307.50" y2="147.50" stroke="#b0a4a2" stroke-width="0.8"/>
<circle cx="303.00" cy="147.50" r="1.2" fill="#b0a4a2"/>
<text x="312.00" y="149.52" font-size="5.95" text-anchor="start" font-weight="normal" fill="#333" stroke="#333" stroke-width="0.1" >PBO, N=64</text>
<line x1="347.80" y1="147.50" x2="356.80" y2="147.50" stroke="#5cc9e0" stroke-width="0.8" stroke-dasharray="2,1.3"/>
<path d="M350.50,146.20 L354.10,146.20 L352.30,149.20 Z" fill="#5cc9e0"/>
<text x="361.30" y="149.52" font-size="5.95" text-anchor="start" font-weight="normal" fill="#333" stroke="#333" stroke-width="0.1" >1 mg RETA, N=67</text>
<line x1="418.00" y1="147.50" x2="427.00" y2="147.50" stroke="#35bddb" stroke-width="0.8"/>
<circle cx="422.50" cy="147.50" r="1.1" fill="#35bddb"/>
<text x="431.50" y="149.52" font-size="5.95" text-anchor="start" font-weight="normal" fill="#333" stroke="#333" stroke-width="0.1" >4 mg RETA, N=62</text>
<line x1="317.70" y1="157.00" x2="326.70" y2="157.00" stroke="#2a8fa8" stroke-width="0.8"/>
<path d="M320.30,158.40 L324.10,158.40 L322.20,155.20 Z" fill="#2a8fa8"/>
<text x="331.20" y="159.02" font-size="5.95" text-anchor="start" font-weight="normal" fill="#333" stroke="#333" stroke-width="0.1" >8 mg RETA, N=62</text>
<line x1="389.20" y1="157.00" x2="398.20" y2="157.00" stroke="#0f4e5c" stroke-width="0.8"/>
<circle cx="393.70" cy="157.00" r="1.8" fill="#0f4e5c"/>
<text x="402.70" y="159.02" font-size="5.95" text-anchor="start" font-weight="normal" fill="#333" stroke="#333" stroke-width="0.1" >12 mg RETA, N=57</text>
<line x1="46.20" y1="285.80" x2="221.00" y2="285.80" stroke="#555" stroke-width="0.6" stroke-dasharray="0.8,1.2"/>
<line x1="64.81" y1="238.88" x2="64.81" y2="248.83" stroke="#333333" stroke-width="0.5" opacity="0.8"/>
<line x1="63.51" y1="238.88" x2="66.11" y2="238.88" stroke="#333333" stroke-width="0.5" opacity="0.8"/>
<line x1="63.51" y1="248.83" x2="66.11" y2="248.83" stroke="#333333" stroke-width="0.5" opacity="0.8"/>
<line x1="83.42" y1="236.09" x2="83.42" y2="247.27" stroke="#333333" stroke-width="0.5" opacity="0.8"/>
<line x1="82.12" y1="236.09" x2="84.72" y2="236.09" stroke="#333333" stroke-width="0.5" opacity="0.8"/>
<line x1="82.12" y1="247.27" x2="84.72" y2="247.27" stroke="#333333" stroke-width="0.5" opacity="0.8"/>
<line x1="102.03" y1="231.74" x2="102.03" y2="242.92" stroke="#333333" stroke-width="0.5" opacity="0.8"/>
<line x1="100.73" y1="231.74" x2="103.33" y2="231.74" stroke="#333333" stroke-width="0.5" opacity="0.8"/>
<line x1="100.73" y1="242.92" x2="103.33" y2="242.92" stroke="#333333" stroke-width="0.5" opacity="0.8"/>
<line x1="120.64" y1="230.49" x2="120.64" y2="241.68" stroke="#333333" stroke-width="0.5" opacity="0.8"/>
<line x1="119.34" y1="230.49" x2="121.94" y2="230.49" stroke="#333333" stroke-width="0.5" opacity="0.8"/>
<line x1="119.34" y1="241.68" x2="121.94" y2="241.68" stroke="#333333" stroke-width="0.5" opacity="0.8"/>
<line x1="157.87" y1="227.39" x2="157.87" y2="238.57" stroke="#333333" stroke-width="0.5" opacity="0.8"/>
<line x1="156.57" y1="227.39" x2="159.17" y2="227.39" stroke="#333333" stroke-width="0.5" opacity="0.8"/>
<line x1="156.57" y1="238.57" x2="159.17" y2="238.57" stroke="#333333" stroke-width="0.5" opacity="0.8"/>
<line x1="213.70" y1="243.85" x2="213.70" y2="255.04" stroke="#333333" stroke-width="0.5" opacity="0.8"/>
<line x1="212.40" y1="243.85" x2="215.00" y2="243.85" stroke="#333333" stroke-width="0.5" opacity="0.8"/>
<line x1="212.40" y1="255.04" x2="215.00" y2="255.04" stroke="#333333" stroke-width="0.5" opacity="0.8"/>
<polyline points="46.20,285.80 64.81,243.85 83.42,241.68 102.03,237.33 120.64,236.09 157.87,232.98 213.70,249.45" fill="none" stroke="#333333" stroke-width="1.0"/>
<circle cx="46.20" cy="285.80" r="1.9" fill="none" stroke="#333333" stroke-width="1.0"/>
<circle cx="64.81" cy="243.85" r="1.9" fill="none" stroke="#333333" stroke-width="1.0"/>
<circle cx="83.42" cy="241.68" r="1.9" fill="none" stroke="#333333" stroke-width="1.0"/>
<circle cx="102.03" cy="237.33" r="1.9" fill="none" stroke="#333333" stroke-width="1.0"/>
<circle cx="120.64" cy="236.09" r="1.9" fill="none" stroke="#333333" stroke-width="1.0"/>
<circle cx="157.87" cy="232.98" r="1.9" fill="none" stroke="#333333" stroke-width="1.0"/>
<circle cx="213.70" cy="249.45" r="1.9" fill="none" stroke="#333333" stroke-width="1.0"/>
<line x1="64.81" y1="243.54" x2="64.81" y2="251.00" stroke="#0f4e5c" stroke-width="0.5" opacity="0.8"/>
<line x1="63.51" y1="243.54" x2="66.11" y2="243.54" stroke="#0f4e5c" stroke-width="0.5" opacity="0.8"/>
<line x1="63.51" y1="251.00" x2="66.11" y2="251.00" stroke="#0f4e5c" stroke-width="0.5" opacity="0.8"/>
<line x1="83.42" y1="233.60" x2="83.42" y2="241.06" stroke="#0f4e5c" stroke-width="0.5" opacity="0.8"/>
<line x1="82.12" y1="233.60" x2="84.72" y2="233.60" stroke="#0f4e5c" stroke-width="0.5" opacity="0.8"/>
<line x1="82.12" y1="241.06" x2="84.72" y2="241.06" stroke="#0f4e5c" stroke-width="0.5" opacity="0.8"/>
<line x1="102.03" y1="234.84" x2="102.03" y2="242.30" stroke="#0f4e5c" stroke-width="0.5" opacity="0.8"/>
<line x1="100.73" y1="234.84" x2="103.33" y2="234.84" stroke="#0f4e5c" stroke-width="0.5" opacity="0.8"/>
<line x1="100.73" y1="242.30" x2="103.33" y2="242.30" stroke="#0f4e5c" stroke-width="0.5" opacity="0.8"/>
<line x1="120.64" y1="231.74" x2="120.64" y2="240.44" stroke="#0f4e5c" stroke-width="0.5" opacity="0.8"/>
<line x1="119.34" y1="231.74" x2="121.94" y2="231.74" stroke="#0f4e5c" stroke-width="0.5" opacity="0.8"/>
<line x1="119.34" y1="240.44" x2="121.94" y2="240.44" stroke="#0f4e5c" stroke-width="0.5" opacity="0.8"/>
<line x1="157.87" y1="228.01" x2="157.87" y2="237.95" stroke="#0f4e5c" stroke-width="0.5" opacity="0.8"/>
<line x1="156.57" y1="228.01" x2="159.17" y2="228.01" stroke="#0f4e5c" stroke-width="0.5" opacity="0.8"/>
<line x1="156.57" y1="237.95" x2="159.17" y2="237.95" stroke="#0f4e5c" stroke-width="0.5" opacity="0.8"/>
<line x1="213.70" y1="226.27" x2="213.70" y2="236.21" stroke="#0f4e5c" stroke-width="0.5" opacity="0.8"/>
<line x1="212.40" y1="226.27" x2="215.00" y2="226.27" stroke="#0f4e5c" stroke-width="0.5" opacity="0.8"/>
<line x1="212.40" y1="236.21" x2="215.00" y2="236.21" stroke="#0f4e5c" stroke-width="0.5" opacity="0.8"/>
<polyline points="46.20,285.80 64.81,247.27 83.42,237.33 102.03,238.57 120.64,236.09 157.87,232.98 213.70,231.24" fill="none" stroke="#0f4e5c" stroke-width="0.85"/>
<circle cx="46.20" cy="285.80" r="1.8" fill="#0f4e5c"/>
<circle cx="64.81" cy="247.27" r="1.8" fill="#0f4e5c"/>
<circle cx="83.42" cy="237.33" r="1.8" fill="#0f4e5c"/>
<circle cx="102.03" cy="238.57" r="1.8" fill="#0f4e5c"/>
<circle cx="120.64" cy="236.09" r="1.8" fill="#0f4e5c"/>
<circle cx="157.87" cy="232.98" r="1.8" fill="#0f4e5c"/>
<circle cx="213.70" cy="231.24" r="1.8" fill="#0f4e5c"/>
<line x1="64.81" y1="244.16" x2="64.81" y2="251.62" stroke="#2a8fa8" stroke-width="0.5" opacity="0.8"/>
<line x1="63.51" y1="244.16" x2="66.11" y2="244.16" stroke="#2a8fa8" stroke-width="0.5" opacity="0.8"/>
<line x1="63.51" y1="251.62" x2="66.11" y2="251.62" stroke="#2a8fa8" stroke-width="0.5" opacity="0.8"/>
<line x1="83.42" y1="238.57" x2="83.42" y2="246.03" stroke="#2a8fa8" stroke-width="0.5" opacity="0.8"/>
<line x1="82.12" y1="238.57" x2="84.72" y2="238.57" stroke="#2a8fa8" stroke-width="0.5" opacity="0.8"/>
<line x1="82.12" y1="246.03" x2="84.72" y2="246.03" stroke="#2a8fa8" stroke-width="0.5" opacity="0.8"/>
<line x1="102.03" y1="241.99" x2="102.03" y2="249.45" stroke="#2a8fa8" stroke-width="0.5" opacity="0.8"/>
<line x1="100.73" y1="241.99" x2="103.33" y2="241.99" stroke="#2a8fa8" stroke-width="0.5" opacity="0.8"/>
<line x1="100.73" y1="249.45" x2="103.33" y2="249.45" stroke="#2a8fa8" stroke-width="0.5" opacity="0.8"/>
<line x1="120.64" y1="241.06" x2="120.64" y2="248.51" stroke="#2a8fa8" stroke-width="0.5" opacity="0.8"/>
<line x1="119.34" y1="241.06" x2="121.94" y2="241.06" stroke="#2a8fa8" stroke-width="0.5" opacity="0.8"/>
<line x1="119.34" y1="248.51" x2="121.94" y2="248.51" stroke="#2a8fa8" stroke-width="0.5" opacity="0.8"/>
<line x1="157.87" y1="244.79" x2="157.87" y2="252.24" stroke="#2a8fa8" stroke-width="0.5" opacity="0.8"/>
<line x1="156.57" y1="244.79" x2="159.17" y2="244.79" stroke="#2a8fa8" stroke-width="0.5" opacity="0.8"/>
<line x1="156.57" y1="252.24" x2="159.17" y2="252.24" stroke="#2a8fa8" stroke-width="0.5" opacity="0.8"/>
<line x1="213.70" y1="241.06" x2="213.70" y2="249.76" stroke="#2a8fa8" stroke-width="0.5" opacity="0.8"/>
<line x1="212.40" y1="241.06" x2="215.00" y2="241.06" stroke="#2a8fa8" stroke-width="0.5" opacity="0.8"/>
<line x1="212.40" y1="249.76" x2="215.00" y2="249.76" stroke="#2a8fa8" stroke-width="0.5" opacity="0.8"/>
<polyline points="46.20,285.80 64.81,247.89 83.42,242.30 102.03,245.72 120.64,244.79 157.87,248.51 213.70,245.41" fill="none" stroke="#2a8fa8" stroke-width="0.85"/>
<path d="M44.30,287.20 L48.10,287.20 L46.20,284.00 Z" fill="#2a8fa8"/>
<path d="M62.91,249.29 L66.71,249.29 L64.81,246.09 Z" fill="#2a8fa8"/>
<path d="M81.52,243.70 L85.32,243.70 L83.42,240.50 Z" fill="#2a8fa8"/>
<path d="M100.13,247.12 L103.93,247.12 L102.03,243.92 Z" fill="#2a8fa8"/>
<path d="M118.74,246.19 L122.54,246.19 L120.64,242.99 Z" fill="#2a8fa8"/>
<path d="M155.97,249.91 L159.77,249.91 L157.87,246.71 Z" fill="#2a8fa8"/>
<path d="M211.80,246.81 L215.60,246.81 L213.70,243.61 Z" fill="#2a8fa8"/>
<line x1="64.81" y1="243.54" x2="64.81" y2="251.00" stroke="#35bddb" stroke-width="0.5" opacity="0.8"/>
<line x1="63.51" y1="243.54" x2="66.11" y2="243.54" stroke="#35bddb" stroke-width="0.5" opacity="0.8"/>
<line x1="63.51" y1="251.00" x2="66.11" y2="251.00" stroke="#35bddb" stroke-width="0.5" opacity="0.8"/>
<line x1="83.42" y1="239.81" x2="83.42" y2="247.27" stroke="#35bddb" stroke-width="0.5" opacity="0.8"/>
<line x1="82.12" y1="239.81" x2="84.72" y2="239.81" stroke="#35bddb" stroke-width="0.5" opacity="0.8"/>
<line x1="82.12" y1="247.27" x2="84.72" y2="247.27" stroke="#35bddb" stroke-width="0.5" opacity="0.8"/>
<line x1="102.03" y1="248.51" x2="102.03" y2="257.21" stroke="#35bddb" stroke-width="0.5" opacity="0.8"/>
<line x1="100.73" y1="248.51" x2="103.33" y2="248.51" stroke="#35bddb" stroke-width="0.5" opacity="0.8"/>
<line x1="100.73" y1="257.21" x2="103.33" y2="257.21" stroke="#35bddb" stroke-width="0.5" opacity="0.8"/>
<line x1="120.64" y1="246.65" x2="120.64" y2="256.59" stroke="#35bddb" stroke-width="0.5" opacity="0.8"/>
<line x1="119.34" y1="246.65" x2="121.94" y2="246.65" stroke="#35bddb" stroke-width="0.5" opacity="0.8"/>
<line x1="119.34" y1="256.59" x2="121.94" y2="256.59" stroke="#35bddb" stroke-width="0.5" opacity="0.8"/>
<line x1="157.87" y1="245.41" x2="157.87" y2="254.11" stroke="#35bddb" stroke-width="0.5" opacity="0.8"/>
<line x1="156.57" y1="245.41" x2="159.17" y2="245.41" stroke="#35bddb" stroke-width="0.5" opacity="0.8"/>
<line x1="156.57" y1="254.11" x2="159.17" y2="254.11" stroke="#35bddb" stroke-width="0.5" opacity="0.8"/>
<line x1="213.70" y1="244.60" x2="213.70" y2="254.54" stroke="#35bddb" stroke-width="0.5" opacity="0.8"/>
<line x1="212.40" y1="244.60" x2="215.00" y2="244.60" stroke="#35bddb" stroke-width="0.5" opacity="0.8"/>
<line x1="212.40" y1="254.54" x2="215.00" y2="254.54" stroke="#35bddb" stroke-width="0.5" opacity="0.8"/>
<polyline points="46.20,285.80 64.81,247.27 83.42,243.54 102.03,252.86 120.64,251.62 157.87,249.76 213.70,249.57" fill="none" stroke="#35bddb" stroke-width="0.85"/>
<circle cx="46.20" cy="285.80" r="1.1" fill="#35bddb"/>
<circle cx="64.81" cy="247.27" r="1.1" fill="#35bddb"/>
<circle cx="83.42" cy="243.54" r="1.1" fill="#35bddb"/>
<circle cx="102.03" cy="252.86" r="1.1" fill="#35bddb"/>
<circle cx="120.64" cy="251.62" r="1.1" fill="#35bddb"/>
<circle cx="157.87" cy="249.76" r="1.1" fill="#35bddb"/>
<circle cx="213.70" cy="249.57" r="1.1" fill="#35bddb"/>
<line x1="64.81" y1="276.17" x2="64.81" y2="283.62" stroke="#5cc9e0" stroke-width="0.5" opacity="0.8"/>
<line x1="63.51" y1="276.17" x2="66.11" y2="276.17" stroke="#5cc9e0" stroke-width="0.5" opacity="0.8"/>
<line x1="63.51" y1="283.62" x2="66.11" y2="283.62" stroke="#5cc9e0" stroke-width="0.5" opacity="0.8"/>
<line x1="83.42" y1="273.37" x2="83.42" y2="280.83" stroke="#5cc9e0" stroke-width="0.5" opacity="0.8"/>
<line x1="82.12" y1="273.37" x2="84.72" y2="273.37" stroke="#5cc9e0" stroke-width="0.5" opacity="0.8"/>
<line x1="82.12" y1="280.83" x2="84.72" y2="280.83" stroke="#5cc9e0" stroke-width="0.5" opacity="0.8"/>
<line x1="102.03" y1="273.06" x2="102.03" y2="280.52" stroke="#5cc9e0" stroke-width="0.5" opacity="0.8"/>
<line x1="100.73" y1="273.06" x2="103.33" y2="273.06" stroke="#5cc9e0" stroke-width="0.5" opacity="0.8"/>
<line x1="100.73" y1="280.52" x2="103.33" y2="280.52" stroke="#5cc9e0" stroke-width="0.5" opacity="0.8"/>
<line x1="120.64" y1="274.61" x2="120.64" y2="283.31" stroke="#5cc9e0" stroke-width="0.5" opacity="0.8"/>
<line x1="119.34" y1="274.61" x2="121.94" y2="274.61" stroke="#5cc9e0" stroke-width="0.5" opacity="0.8"/>
<line x1="119.34" y1="283.31" x2="121.94" y2="283.31" stroke="#5cc9e0" stroke-width="0.5" opacity="0.8"/>
<line x1="157.87" y1="273.06" x2="157.87" y2="281.76" stroke="#5cc9e0" stroke-width="0.5" opacity="0.8"/>
<line x1="156.57" y1="273.06" x2="159.17" y2="273.06" stroke="#5cc9e0" stroke-width="0.5" opacity="0.8"/>
<line x1="156.57" y1="281.76" x2="159.17" y2="281.76" stroke="#5cc9e0" stroke-width="0.5" opacity="0.8"/>
<line x1="213.70" y1="270.89" x2="213.70" y2="280.83" stroke="#5cc9e0" stroke-width="0.5" opacity="0.8"/>
<line x1="212.40" y1="270.89" x2="215.00" y2="270.89" stroke="#5cc9e0" stroke-width="0.5" opacity="0.8"/>
<line x1="212.40" y1="280.83" x2="215.00" y2="280.83" stroke="#5cc9e0" stroke-width="0.5" opacity="0.8"/>
<polyline points="46.20,285.80 64.81,279.90 83.42,277.10 102.03,276.79 120.64,278.96 157.87,277.41 213.70,275.86" fill="none" stroke="#5cc9e0" stroke-width="0.85" stroke-dasharray="2,1.3"/>
<path d="M44.40,284.50 L48.00,284.50 L46.20,287.50 Z" fill="#5cc9e0"/>
<path d="M63.01,278.60 L66.61,278.60 L64.81,281.60 Z" fill="#5cc9e0"/>
<path d="M81.62,275.80 L85.22,275.80 L83.42,278.80 Z" fill="#5cc9e0"/>
<path d="M100.23,275.49 L103.83,275.49 L102.03,278.49 Z" fill="#5cc9e0"/>
<path d="M118.84,277.66 L122.44,277.66 L120.64,280.66 Z" fill="#5cc9e0"/>
<path d="M156.07,276.11 L159.67,276.11 L157.87,279.11 Z" fill="#5cc9e0"/>
<path d="M211.90,274.56 L215.50,274.56 L213.70,277.56 Z" fill="#5cc9e0"/>
<line x1="64.81" y1="283.31" x2="64.81" y2="289.53" stroke="#b0a4a2" stroke-width="0.5" opacity="0.8"/>
<line x1="63.51" y1="283.31" x2="66.11" y2="283.31" stroke="#b0a4a2" stroke-width="0.5" opacity="0.8"/>
<line x1="63.51" y1="289.53" x2="66.11" y2="289.53" stroke="#b0a4a2" stroke-width="0.5" opacity="0.8"/>
<line x1="83.42" y1="282.69" x2="83.42" y2="290.15" stroke="#b0a4a2" stroke-width="0.5" opacity="0.8"/>
<line x1="82.12" y1="282.69" x2="84.72" y2="282.69" stroke="#b0a4a2" stroke-width="0.5" opacity="0.8"/>
<line x1="82.12" y1="290.15" x2="84.72" y2="290.15" stroke="#b0a4a2" stroke-width="0.5" opacity="0.8"/>
<line x1="102.03" y1="282.69" x2="102.03" y2="290.15" stroke="#b0a4a2" stroke-width="0.5" opacity="0.8"/>
<line x1="100.73" y1="282.69" x2="103.33" y2="282.69" stroke="#b0a4a2" stroke-width="0.5" opacity="0.8"/>
<line x1="100.73" y1="290.15" x2="103.33" y2="290.15" stroke="#b0a4a2" stroke-width="0.5" opacity="0.8"/>
<line x1="120.64" y1="283.94" x2="120.64" y2="291.39" stroke="#b0a4a2" stroke-width="0.5" opacity="0.8"/>
<line x1="119.34" y1="283.94" x2="121.94" y2="283.94" stroke="#b0a4a2" stroke-width="0.5" opacity="0.8"/>
<line x1="119.34" y1="291.39" x2="121.94" y2="291.39" stroke="#b0a4a2" stroke-width="0.5" opacity="0.8"/>
<line x1="157.87" y1="279.28" x2="157.87" y2="286.73" stroke="#b0a4a2" stroke-width="0.5" opacity="0.8"/>
<line x1="156.57" y1="279.28" x2="159.17" y2="279.28" stroke="#b0a4a2" stroke-width="0.5" opacity="0.8"/>
<line x1="156.57" y1="286.73" x2="159.17" y2="286.73" stroke="#b0a4a2" stroke-width="0.5" opacity="0.8"/>
<line x1="213.70" y1="276.17" x2="213.70" y2="283.62" stroke="#b0a4a2" stroke-width="0.5" opacity="0.8"/>
<line x1="212.40" y1="276.17" x2="215.00" y2="276.17" stroke="#b0a4a2" stroke-width="0.5" opacity="0.8"/>
<line x1="212.40" y1="283.62" x2="215.00" y2="283.62" stroke="#b0a4a2" stroke-width="0.5" opacity="0.8"/>
<polyline points="46.20,285.80 64.81,286.42 83.42,286.42 102.03,286.42 120.64,287.66 157.87,283.00 213.70,279.90" fill="none" stroke="#b0a4a2" stroke-width="0.7"/>
<circle cx="46.20" cy="285.80" r="1.2" fill="#b0a4a2"/>
<circle cx="64.81" cy="286.42" r="1.2" fill="#b0a4a2"/>
<circle cx="83.42" cy="286.42" r="1.2" fill="#b0a4a2"/>
<circle cx="102.03" cy="286.42" r="1.2" fill="#b0a4a2"/>
<circle cx="120.64" cy="287.66" r="1.2" fill="#b0a4a2"/>
<circle cx="157.87" cy="283.00" r="1.2" fill="#b0a4a2"/>
<circle cx="213.70" cy="279.90" r="1.2" fill="#b0a4a2"/>
<line x1="46.20" y1="211.23" x2="46.20" y2="298.73" stroke="#000" stroke-width="1.1"/>
<line x1="45.70" y1="298.23" x2="221.00" y2="298.23" stroke="#000" stroke-width="1.1"/>
<circle cx="46.20" cy="285.80" r="2.0" fill="#a3d6e2" stroke="#1d3f4a" stroke-width="0.8"/>
<line x1="43.20" y1="298.23" x2="46.20" y2="298.23" stroke="#111" stroke-width="0.8"/>
<text x="42.20" y="300.11" font-size="5.43" text-anchor="end" font-weight="bold" fill="#222" >-20</text>
<line x1="43.20" y1="285.80" x2="46.20" y2="285.80" stroke="#111" stroke-width="0.8"/>
<text x="42.20" y="287.68" font-size="5.43" text-anchor="end" font-weight="bold" fill="#222" >0</text>
<line x1="43.20" y1="273.37" x2="46.20" y2="273.37" stroke="#111" stroke-width="0.8"/>
<text x="42.20" y="275.25" font-size="5.43" text-anchor="end" font-weight="bold" fill="#222" >20</text>
<line x1="43.20" y1="260.94" x2="46.20" y2="260.94" stroke="#111" stroke-width="0.8"/>
<text x="42.20" y="262.82" font-size="5.43" text-anchor="end" font-weight="bold" fill="#222" >40</text>
<line x1="43.20" y1="248.51" x2="46.20" y2="248.51" stroke="#111" stroke-width="0.8"/>
<text x="42.20" y="250.40" font-size="5.43" text-anchor="end" font-weight="bold" fill="#222" >60</text>
<line x1="43.20" y1="236.09" x2="46.20" y2="236.09" stroke="#111" stroke-width="0.8"/>
<text x="42.20" y="237.97" font-size="5.43" text-anchor="end" font-weight="bold" fill="#222" >80</text>
<line x1="43.20" y1="223.66" x2="46.20" y2="223.66" stroke="#111" stroke-width="0.8"/>
<text x="42.20" y="225.54" font-size="5.43" text-anchor="end" font-weight="bold" fill="#222" >100</text>
<line x1="43.20" y1="211.23" x2="46.20" y2="211.23" stroke="#111" stroke-width="0.8"/>
<text x="42.20" y="213.11" font-size="5.43" text-anchor="end" font-weight="bold" fill="#222" >120</text>
<line x1="46.20" y1="298.23" x2="46.20" y2="301.23" stroke="#111" stroke-width="0.8"/>
<text x="46.20" y="308.01" font-size="5.43" text-anchor="middle" font-weight="bold" fill="#222" >0</text>
<line x1="64.81" y1="298.23" x2="64.81" y2="301.23" stroke="#111" stroke-width="0.8"/>
<text x="64.81" y="308.01" font-size="5.43" text-anchor="middle" font-weight="bold" fill="#222" >4</text>
<line x1="83.42" y1="298.23" x2="83.42" y2="301.23" stroke="#111" stroke-width="0.8"/>
<text x="83.42" y="308.01" font-size="5.43" text-anchor="middle" font-weight="bold" fill="#222" >8</text>
<line x1="102.03" y1="298.23" x2="102.03" y2="301.23" stroke="#111" stroke-width="0.8"/>
<text x="102.03" y="308.01" font-size="5.43" text-anchor="middle" font-weight="bold" fill="#222" >12</text>
<line x1="120.64" y1="298.23" x2="120.64" y2="301.23" stroke="#111" stroke-width="0.8"/>
<text x="120.64" y="308.01" font-size="5.43" text-anchor="middle" font-weight="bold" fill="#222" >16</text>
<line x1="157.87" y1="298.23" x2="157.87" y2="301.23" stroke="#111" stroke-width="0.8"/>
<text x="157.87" y="308.01" font-size="5.43" text-anchor="middle" font-weight="bold" fill="#222" >24</text>
<line x1="213.70" y1="298.23" x2="213.70" y2="301.23" stroke="#111" stroke-width="0.8"/>
<text x="213.70" y="308.01" font-size="5.43" text-anchor="middle" font-weight="bold" fill="#222" >36</text>
<text x="134.50" y="316.80" font-size="6.27" text-anchor="middle" font-weight="bold" fill="#111" >Week</text>
<text x="51.80" y="212.60" font-size="6.48" text-anchor="start" font-weight="normal" fill="#222" stroke="#222" stroke-width="0.1" >T2D Study Participants</text>
<text x="51.80" y="218.87" font-size="5.33" text-anchor="start" font-weight="normal" fill="#222" stroke="#222" stroke-width="0.1" >Baseline geometric mean [CV(%)]: 49.1 (61.5)</text>
<text x="220.50" y="233.88" font-size="5.43" text-anchor="start" font-weight="normal" fill="#333" stroke="#333" stroke-width="0.1" >12 mg:87.8%**</text>
<text x="220.50" y="242.88" font-size="5.43" text-anchor="start" font-weight="normal" fill="#333" stroke="#333" stroke-width="0.1" >8 mg: 65.0%*</text>
<text x="220.50" y="250.68" font-size="5.43" text-anchor="start" font-weight="normal" fill="#333" stroke="#333" stroke-width="0.1" >Dula: 58.5%</text>
<text x="220.50" y="256.88" font-size="5.43" text-anchor="start" font-weight="normal" fill="#333" stroke="#333" stroke-width="0.1" >4 mg:58.3%*</text>
<text x="220.50" y="277.68" font-size="5.43" text-anchor="start" font-weight="normal" fill="#333" stroke="#333" stroke-width="0.1" >0.5 mg: 16.0%</text>
<text x="220.50" y="284.88" font-size="5.43" text-anchor="start" font-weight="normal" fill="#333" stroke="#333" stroke-width="0.1" >PBO: 9.5%</text>
<text x="0" y="0" font-size="6.02" font-weight="bold" text-anchor="middle" fill="#111" transform="translate(19.75,254.80) rotate(-90)">Percent Change from Baseline in HOMA2-B</text>
<text x="0" y="0" font-size="6.0" font-weight="bold" text-anchor="middle" fill="#111" transform="translate(28.10,253.50) rotate(-90)">(C-peptide)</text>
<line x1="45.50" y1="323.60" x2="54.50" y2="323.60" stroke="#b0a4a2" stroke-width="0.8"/>
<circle cx="50.00" cy="323.60" r="1.2" fill="#b0a4a2"/>
<text x="59.00" y="325.79" font-size="6.48" text-anchor="start" font-weight="normal" fill="#333" stroke="#333" stroke-width="0.1" >PBO, N=43</text>
<line x1="98.00" y1="323.60" x2="107.00" y2="323.60" stroke="#5cc9e0" stroke-width="0.8" stroke-dasharray="2,1.3"/>
<path d="M100.70,322.30 L104.30,322.30 L102.50,325.30 Z" fill="#5cc9e0"/>
<text x="111.50" y="325.79" font-size="6.48" text-anchor="start" font-weight="normal" fill="#333" stroke="#333" stroke-width="0.1" >0.5 mg RETA, N=46</text>
<line x1="173.50" y1="323.60" x2="182.50" y2="323.60" stroke="#35bddb" stroke-width="0.8"/>
<circle cx="178.00" cy="323.60" r="1.1" fill="#35bddb"/>
<text x="187.00" y="325.79" font-size="6.48" text-anchor="start" font-weight="normal" fill="#333" stroke="#333" stroke-width="0.1" >4 mg RETA, N=41</text>
<line x1="32.30" y1="333.30" x2="41.30" y2="333.30" stroke="#2a8fa8" stroke-width="0.8"/>
<path d="M34.90,334.70 L38.70,334.70 L36.80,331.50 Z" fill="#2a8fa8"/>
<text x="45.80" y="335.49" font-size="6.48" text-anchor="start" font-weight="normal" fill="#333" stroke="#333" stroke-width="0.1" >8 mg RETA, N=45</text>
<line x1="105.20" y1="333.30" x2="114.20" y2="333.30" stroke="#0f4e5c" stroke-width="0.8"/>
<circle cx="109.70" cy="333.30" r="1.8" fill="#0f4e5c"/>
<text x="118.70" y="335.49" font-size="6.48" text-anchor="start" font-weight="normal" fill="#333" stroke="#333" stroke-width="0.1" >12 mg RETA, N=42</text>
<line x1="178.20" y1="333.30" x2="187.20" y2="333.30" stroke="#333333" stroke-width="0.8"/>
<circle cx="182.70" cy="333.30" r="1.9" fill="none" stroke="#333333" stroke-width="1.0"/>
<text x="191.70" y="335.49" font-size="6.48" text-anchor="start" font-weight="normal" fill="#333" stroke="#333" stroke-width="0.1" >Dula 1.5 mg, N=45</text>
<line x1="295.00" y1="230.60" x2="462.00" y2="230.60" stroke="#555" stroke-width="0.6" stroke-dasharray="0.8,1.2"/>
<line x1="312.83" y1="244.84" x2="312.83" y2="257.30" stroke="#333333" stroke-width="0.5" opacity="0.8"/>
<line x1="311.53" y1="244.84" x2="314.13" y2="244.84" stroke="#333333" stroke-width="0.5" opacity="0.8"/>
<line x1="311.53" y1="257.30" x2="314.13" y2="257.30" stroke="#333333" stroke-width="0.5" opacity="0.8"/>
<line x1="330.67" y1="250.18" x2="330.67" y2="266.20" stroke="#333333" stroke-width="0.5" opacity="0.8"/>
<line x1="329.37" y1="250.18" x2="331.97" y2="250.18" stroke="#333333" stroke-width="0.5" opacity="0.8"/>
<line x1="329.37" y1="266.20" x2="331.97" y2="266.20" stroke="#333333" stroke-width="0.5" opacity="0.8"/>
<line x1="348.50" y1="246.09" x2="348.50" y2="262.11" stroke="#333333" stroke-width="0.5" opacity="0.8"/>
<line x1="347.20" y1="246.09" x2="349.80" y2="246.09" stroke="#333333" stroke-width="0.5" opacity="0.8"/>
<line x1="347.20" y1="262.11" x2="349.80" y2="262.11" stroke="#333333" stroke-width="0.5" opacity="0.8"/>
<line x1="366.33" y1="240.66" x2="366.33" y2="254.90" stroke="#333333" stroke-width="0.5" opacity="0.8"/>
<line x1="365.03" y1="240.66" x2="367.63" y2="240.66" stroke="#333333" stroke-width="0.5" opacity="0.8"/>
<line x1="365.03" y1="254.90" x2="367.63" y2="254.90" stroke="#333333" stroke-width="0.5" opacity="0.8"/>
<line x1="402.00" y1="238.88" x2="402.00" y2="253.12" stroke="#333333" stroke-width="0.5" opacity="0.8"/>
<line x1="400.70" y1="238.88" x2="403.30" y2="238.88" stroke="#333333" stroke-width="0.5" opacity="0.8"/>
<line x1="400.70" y1="253.12" x2="403.30" y2="253.12" stroke="#333333" stroke-width="0.5" opacity="0.8"/>
<line x1="455.50" y1="223.66" x2="455.50" y2="245.02" stroke="#333333" stroke-width="0.5" opacity="0.8"/>
<line x1="454.20" y1="223.66" x2="456.80" y2="223.66" stroke="#333333" stroke-width="0.5" opacity="0.8"/>
<line x1="454.20" y1="245.02" x2="456.80" y2="245.02" stroke="#333333" stroke-width="0.5" opacity="0.8"/>
<polyline points="295.00,230.60 312.83,251.07 330.67,258.19 348.50,254.10 366.33,247.78 402.00,246.00 455.50,234.34" fill="none" stroke="#333333" stroke-width="1.0"/>
<circle cx="295.00" cy="230.60" r="1.9" fill="none" stroke="#333333" stroke-width="1.0"/>
<circle cx="312.83" cy="251.07" r="1.9" fill="none" stroke="#333333" stroke-width="1.0"/>
<circle cx="330.67" cy="258.19" r="1.9" fill="none" stroke="#333333" stroke-width="1.0"/>
<circle cx="348.50" cy="254.10" r="1.9" fill="none" stroke="#333333" stroke-width="1.0"/>
<circle cx="366.33" cy="247.78" r="1.9" fill="none" stroke="#333333" stroke-width="1.0"/>
<circle cx="402.00" cy="246.00" r="1.9" fill="none" stroke="#333333" stroke-width="1.0"/>
<circle cx="455.50" cy="234.34" r="1.9" fill="none" stroke="#333333" stroke-width="1.0"/>
<line x1="312.83" y1="258.81" x2="312.83" y2="265.93" stroke="#0f4e5c" stroke-width="0.5" opacity="0.8"/>
<line x1="311.53" y1="258.81" x2="314.13" y2="258.81" stroke="#0f4e5c" stroke-width="0.5" opacity="0.8"/>
<line x1="311.53" y1="265.93" x2="314.13" y2="265.93" stroke="#0f4e5c" stroke-width="0.5" opacity="0.8"/>
<line x1="330.67" y1="268.51" x2="330.67" y2="275.63" stroke="#0f4e5c" stroke-width="0.5" opacity="0.8"/>
<line x1="329.37" y1="268.51" x2="331.97" y2="268.51" stroke="#0f4e5c" stroke-width="0.5" opacity="0.8"/>
<line x1="329.37" y1="275.63" x2="331.97" y2="275.63" stroke="#0f4e5c" stroke-width="0.5" opacity="0.8"/>
<line x1="348.50" y1="274.74" x2="348.50" y2="281.86" stroke="#0f4e5c" stroke-width="0.5" opacity="0.8"/>
<line x1="347.20" y1="274.74" x2="349.80" y2="274.74" stroke="#0f4e5c" stroke-width="0.5" opacity="0.8"/>
<line x1="347.20" y1="281.86" x2="349.80" y2="281.86" stroke="#0f4e5c" stroke-width="0.5" opacity="0.8"/>
<line x1="366.33" y1="282.40" x2="366.33" y2="289.52" stroke="#0f4e5c" stroke-width="0.5" opacity="0.8"/>
<line x1="365.03" y1="282.40" x2="367.63" y2="282.40" stroke="#0f4e5c" stroke-width="0.5" opacity="0.8"/>
<line x1="365.03" y1="289.52" x2="367.63" y2="289.52" stroke="#0f4e5c" stroke-width="0.5" opacity="0.8"/>
<line x1="402.00" y1="286.58" x2="402.00" y2="293.70" stroke="#0f4e5c" stroke-width="0.5" opacity="0.8"/>
<line x1="400.70" y1="286.58" x2="403.30" y2="286.58" stroke="#0f4e5c" stroke-width="0.5" opacity="0.8"/>
<line x1="400.70" y1="293.70" x2="403.30" y2="293.70" stroke="#0f4e5c" stroke-width="0.5" opacity="0.8"/>
<line x1="455.50" y1="289.79" x2="455.50" y2="296.91" stroke="#0f4e5c" stroke-width="0.5" opacity="0.8"/>
<line x1="454.20" y1="289.79" x2="456.80" y2="289.79" stroke="#0f4e5c" stroke-width="0.5" opacity="0.8"/>
<line x1="454.20" y1="296.91" x2="456.80" y2="296.91" stroke="#0f4e5c" stroke-width="0.5" opacity="0.8"/>
<polyline points="295.00,230.60 312.83,262.37 330.67,272.07 348.50,278.30 366.33,285.96 402.00,290.14 455.50,293.35" fill="none" stroke="#0f4e5c" stroke-width="0.85"/>
<circle cx="295.00" cy="230.60" r="1.8" fill="#0f4e5c"/>
<circle cx="312.83" cy="262.37" r="1.8" fill="#0f4e5c"/>
<circle cx="330.67" cy="272.07" r="1.8" fill="#0f4e5c"/>
<circle cx="348.50" cy="278.30" r="1.8" fill="#0f4e5c"/>
<circle cx="366.33" cy="285.96" r="1.8" fill="#0f4e5c"/>
<circle cx="402.00" cy="290.14" r="1.8" fill="#0f4e5c"/>
<circle cx="455.50" cy="293.35" r="1.8" fill="#0f4e5c"/>
<line x1="312.83" y1="266.91" x2="312.83" y2="274.03" stroke="#2a8fa8" stroke-width="0.5" opacity="0.8"/>
<line x1="311.53" y1="266.91" x2="314.13" y2="266.91" stroke="#2a8fa8" stroke-width="0.5" opacity="0.8"/>
<line x1="311.53" y1="274.03" x2="314.13" y2="274.03" stroke="#2a8fa8" stroke-width="0.5" opacity="0.8"/>
<line x1="330.67" y1="273.85" x2="330.67" y2="280.97" stroke="#2a8fa8" stroke-width="0.5" opacity="0.8"/>
<line x1="329.37" y1="273.85" x2="331.97" y2="273.85" stroke="#2a8fa8" stroke-width="0.5" opacity="0.8"/>
<line x1="329.37" y1="280.97" x2="331.97" y2="280.97" stroke="#2a8fa8" stroke-width="0.5" opacity="0.8"/>
<line x1="348.50" y1="277.24" x2="348.50" y2="284.36" stroke="#2a8fa8" stroke-width="0.5" opacity="0.8"/>
<line x1="347.20" y1="277.24" x2="349.80" y2="277.24" stroke="#2a8fa8" stroke-width="0.5" opacity="0.8"/>
<line x1="347.20" y1="284.36" x2="349.80" y2="284.36" stroke="#2a8fa8" stroke-width="0.5" opacity="0.8"/>
<line x1="366.33" y1="280.88" x2="366.33" y2="289.79" stroke="#2a8fa8" stroke-width="0.5" opacity="0.8"/>
<line x1="365.03" y1="280.88" x2="367.63" y2="280.88" stroke="#2a8fa8" stroke-width="0.5" opacity="0.8"/>
<line x1="365.03" y1="289.79" x2="367.63" y2="289.79" stroke="#2a8fa8" stroke-width="0.5" opacity="0.8"/>
<line x1="402.00" y1="279.82" x2="402.00" y2="288.72" stroke="#2a8fa8" stroke-width="0.5" opacity="0.8"/>
<line x1="400.70" y1="279.82" x2="403.30" y2="279.82" stroke="#2a8fa8" stroke-width="0.5" opacity="0.8"/>
<line x1="400.70" y1="288.72" x2="403.30" y2="288.72" stroke="#2a8fa8" stroke-width="0.5" opacity="0.8"/>
<line x1="455.50" y1="282.31" x2="455.50" y2="291.21" stroke="#2a8fa8" stroke-width="0.5" opacity="0.8"/>
<line x1="454.20" y1="282.31" x2="456.80" y2="282.31" stroke="#2a8fa8" stroke-width="0.5" opacity="0.8"/>
<line x1="454.20" y1="291.21" x2="456.80" y2="291.21" stroke="#2a8fa8" stroke-width="0.5" opacity="0.8"/>
<polyline points="295.00,230.60 312.83,270.47 330.67,277.41 348.50,280.80 366.33,285.34 402.00,284.27 455.50,286.76" fill="none" stroke="#2a8fa8" stroke-width="0.85"/>
<path d="M293.10,232.00 L296.90,232.00 L295.00,228.80 Z" fill="#2a8fa8"/>
<path d="M310.93,271.87 L314.73,271.87 L312.83,268.67 Z" fill="#2a8fa8"/>
<path d="M328.77,278.81 L332.57,278.81 L330.67,275.61 Z" fill="#2a8fa8"/>
<path d="M346.60,282.20 L350.40,282.20 L348.50,279.00 Z" fill="#2a8fa8"/>
<path d="M364.43,286.74 L368.23,286.74 L366.33,283.54 Z" fill="#2a8fa8"/>
<path d="M400.10,285.67 L403.90,285.67 L402.00,282.47 Z" fill="#2a8fa8"/>
<path d="M453.60,288.16 L457.40,288.16 L455.50,284.96 Z" fill="#2a8fa8"/>
<line x1="312.83" y1="266.20" x2="312.83" y2="273.32" stroke="#35bddb" stroke-width="0.5" opacity="0.8"/>
<line x1="311.53" y1="266.20" x2="314.13" y2="266.20" stroke="#35bddb" stroke-width="0.5" opacity="0.8"/>
<line x1="311.53" y1="273.32" x2="314.13" y2="273.32" stroke="#35bddb" stroke-width="0.5" opacity="0.8"/>
<line x1="330.67" y1="267.62" x2="330.67" y2="276.52" stroke="#35bddb" stroke-width="0.5" opacity="0.8"/>
<line x1="329.37" y1="267.62" x2="331.97" y2="267.62" stroke="#35bddb" stroke-width="0.5" opacity="0.8"/>
<line x1="329.37" y1="276.52" x2="331.97" y2="276.52" stroke="#35bddb" stroke-width="0.5" opacity="0.8"/>
<line x1="348.50" y1="270.03" x2="348.50" y2="278.93" stroke="#35bddb" stroke-width="0.5" opacity="0.8"/>
<line x1="347.20" y1="270.03" x2="349.80" y2="270.03" stroke="#35bddb" stroke-width="0.5" opacity="0.8"/>
<line x1="347.20" y1="278.93" x2="349.80" y2="278.93" stroke="#35bddb" stroke-width="0.5" opacity="0.8"/>
<line x1="366.33" y1="268.69" x2="366.33" y2="279.37" stroke="#35bddb" stroke-width="0.5" opacity="0.8"/>
<line x1="365.03" y1="268.69" x2="367.63" y2="268.69" stroke="#35bddb" stroke-width="0.5" opacity="0.8"/>
<line x1="365.03" y1="279.37" x2="367.63" y2="279.37" stroke="#35bddb" stroke-width="0.5" opacity="0.8"/>
<line x1="402.00" y1="267.98" x2="402.00" y2="278.66" stroke="#35bddb" stroke-width="0.5" opacity="0.8"/>
<line x1="400.70" y1="267.98" x2="403.30" y2="267.98" stroke="#35bddb" stroke-width="0.5" opacity="0.8"/>
<line x1="400.70" y1="278.66" x2="403.30" y2="278.66" stroke="#35bddb" stroke-width="0.5" opacity="0.8"/>
<line x1="455.50" y1="270.12" x2="455.50" y2="280.80" stroke="#35bddb" stroke-width="0.5" opacity="0.8"/>
<line x1="454.20" y1="270.12" x2="456.80" y2="270.12" stroke="#35bddb" stroke-width="0.5" opacity="0.8"/>
<line x1="454.20" y1="280.80" x2="456.80" y2="280.80" stroke="#35bddb" stroke-width="0.5" opacity="0.8"/>
<polyline points="295.00,230.60 312.83,269.76 330.67,272.07 348.50,274.48 366.33,274.03 402.00,273.32 455.50,275.46" fill="none" stroke="#35bddb" stroke-width="0.85"/>
<circle cx="295.00" cy="230.60" r="1.1" fill="#35bddb"/>
<circle cx="312.83" cy="269.76" r="1.1" fill="#35bddb"/>
<circle cx="330.67" cy="272.07" r="1.1" fill="#35bddb"/>
<circle cx="348.50" cy="274.48" r="1.1" fill="#35bddb"/>
<circle cx="366.33" cy="274.03" r="1.1" fill="#35bddb"/>
<circle cx="402.00" cy="273.32" r="1.1" fill="#35bddb"/>
<circle cx="455.50" cy="275.46" r="1.1" fill="#35bddb"/>
<line x1="312.83" y1="241.55" x2="312.83" y2="254.01" stroke="#5cc9e0" stroke-width="0.5" opacity="0.8"/>
<line x1="311.53" y1="241.55" x2="314.13" y2="241.55" stroke="#5cc9e0" stroke-width="0.5" opacity="0.8"/>
<line x1="311.53" y1="254.01" x2="314.13" y2="254.01" stroke="#5cc9e0" stroke-width="0.5" opacity="0.8"/>
<line x1="330.67" y1="237.10" x2="330.67" y2="249.56" stroke="#5cc9e0" stroke-width="0.5" opacity="0.8"/>
<line x1="329.37" y1="237.10" x2="331.97" y2="237.10" stroke="#5cc9e0" stroke-width="0.5" opacity="0.8"/>
<line x1="329.37" y1="249.56" x2="331.97" y2="249.56" stroke="#5cc9e0" stroke-width="0.5" opacity="0.8"/>
<line x1="348.50" y1="229.18" x2="348.50" y2="243.42" stroke="#5cc9e0" stroke-width="0.5" opacity="0.8"/>
<line x1="347.20" y1="229.18" x2="349.80" y2="229.18" stroke="#5cc9e0" stroke-width="0.5" opacity="0.8"/>
<line x1="347.20" y1="243.42" x2="349.80" y2="243.42" stroke="#5cc9e0" stroke-width="0.5" opacity="0.8"/>
<line x1="366.33" y1="245.73" x2="366.33" y2="258.19" stroke="#5cc9e0" stroke-width="0.5" opacity="0.8"/>
<line x1="365.03" y1="245.73" x2="367.63" y2="245.73" stroke="#5cc9e0" stroke-width="0.5" opacity="0.8"/>
<line x1="365.03" y1="258.19" x2="367.63" y2="258.19" stroke="#5cc9e0" stroke-width="0.5" opacity="0.8"/>
<line x1="402.00" y1="245.73" x2="402.00" y2="258.19" stroke="#5cc9e0" stroke-width="0.5" opacity="0.8"/>
<line x1="400.70" y1="245.73" x2="403.30" y2="245.73" stroke="#5cc9e0" stroke-width="0.5" opacity="0.8"/>
<line x1="400.70" y1="258.19" x2="403.30" y2="258.19" stroke="#5cc9e0" stroke-width="0.5" opacity="0.8"/>
<line x1="455.50" y1="236.38" x2="455.50" y2="248.84" stroke="#5cc9e0" stroke-width="0.5" opacity="0.8"/>
<line x1="454.20" y1="236.38" x2="456.80" y2="236.38" stroke="#5cc9e0" stroke-width="0.5" opacity="0.8"/>
<line x1="454.20" y1="248.84" x2="456.80" y2="248.84" stroke="#5cc9e0" stroke-width="0.5" opacity="0.8"/>
<polyline points="295.00,230.60 312.83,247.78 330.67,243.33 348.50,236.30 366.33,251.96 402.00,251.96 455.50,242.62" fill="none" stroke="#5cc9e0" stroke-width="0.85" stroke-dasharray="2,1.3"/>
<path d="M293.20,229.30 L296.80,229.30 L295.00,232.30 Z" fill="#5cc9e0"/>
<path d="M311.03,246.48 L314.63,246.48 L312.83,249.48 Z" fill="#5cc9e0"/>
<path d="M328.87,242.03 L332.47,242.03 L330.67,245.03 Z" fill="#5cc9e0"/>
<path d="M346.70,235.00 L350.30,235.00 L348.50,238.00 Z" fill="#5cc9e0"/>
<path d="M364.53,250.66 L368.13,250.66 L366.33,253.66 Z" fill="#5cc9e0"/>
<path d="M400.20,250.66 L403.80,250.66 L402.00,253.66 Z" fill="#5cc9e0"/>
<path d="M453.70,241.31 L457.30,241.31 L455.50,244.31 Z" fill="#5cc9e0"/>
<line x1="312.83" y1="226.59" x2="312.83" y2="237.28" stroke="#b0a4a2" stroke-width="0.5" opacity="0.8"/>
<line x1="311.53" y1="226.59" x2="314.13" y2="226.59" stroke="#b0a4a2" stroke-width="0.5" opacity="0.8"/>
<line x1="311.53" y1="237.28" x2="314.13" y2="237.28" stroke="#b0a4a2" stroke-width="0.5" opacity="0.8"/>
<line x1="330.67" y1="230.96" x2="330.67" y2="241.64" stroke="#b0a4a2" stroke-width="0.5" opacity="0.8"/>
<line x1="329.37" y1="230.96" x2="331.97" y2="230.96" stroke="#b0a4a2" stroke-width="0.5" opacity="0.8"/>
<line x1="329.37" y1="241.64" x2="331.97" y2="241.64" stroke="#b0a4a2" stroke-width="0.5" opacity="0.8"/>
<line x1="348.50" y1="224.37" x2="348.50" y2="236.83" stroke="#b0a4a2" stroke-width="0.5" opacity="0.8"/>
<line x1="347.20" y1="224.37" x2="349.80" y2="224.37" stroke="#b0a4a2" stroke-width="0.5" opacity="0.8"/>
<line x1="347.20" y1="236.83" x2="349.80" y2="236.83" stroke="#b0a4a2" stroke-width="0.5" opacity="0.8"/>
<line x1="366.33" y1="227.40" x2="366.33" y2="239.86" stroke="#b0a4a2" stroke-width="0.5" opacity="0.8"/>
<line x1="365.03" y1="227.40" x2="367.63" y2="227.40" stroke="#b0a4a2" stroke-width="0.5" opacity="0.8"/>
<line x1="365.03" y1="239.86" x2="367.63" y2="239.86" stroke="#b0a4a2" stroke-width="0.5" opacity="0.8"/>
<line x1="402.00" y1="234.16" x2="402.00" y2="246.62" stroke="#b0a4a2" stroke-width="0.5" opacity="0.8"/>
<line x1="400.70" y1="234.16" x2="403.30" y2="234.16" stroke="#b0a4a2" stroke-width="0.5" opacity="0.8"/>
<line x1="400.70" y1="246.62" x2="403.30" y2="246.62" stroke="#b0a4a2" stroke-width="0.5" opacity="0.8"/>
<line x1="455.50" y1="247.69" x2="455.50" y2="261.93" stroke="#b0a4a2" stroke-width="0.5" opacity="0.8"/>
<line x1="454.20" y1="247.69" x2="456.80" y2="247.69" stroke="#b0a4a2" stroke-width="0.5" opacity="0.8"/>
<line x1="454.20" y1="261.93" x2="456.80" y2="261.93" stroke="#b0a4a2" stroke-width="0.5" opacity="0.8"/>
<polyline points="295.00,230.60 312.83,231.94 330.67,236.30 348.50,230.60 366.33,233.63 402.00,240.39 455.50,254.81" fill="none" stroke="#b0a4a2" stroke-width="0.7"/>
<circle cx="295.00" cy="230.60" r="1.2" fill="#b0a4a2"/>
<circle cx="312.83" cy="231.94" r="1.2" fill="#b0a4a2"/>
<circle cx="330.67" cy="236.30" r="1.2" fill="#b0a4a2"/>
<circle cx="348.50" cy="230.60" r="1.2" fill="#b0a4a2"/>
<circle cx="366.33" cy="233.63" r="1.2" fill="#b0a4a2"/>
<circle cx="402.00" cy="240.39" r="1.2" fill="#b0a4a2"/>
<circle cx="455.50" cy="254.81" r="1.2" fill="#b0a4a2"/>
<line x1="295.00" y1="212.80" x2="295.00" y2="302.30" stroke="#000" stroke-width="1.1"/>
<line x1="294.50" y1="301.80" x2="465.00" y2="301.80" stroke="#000" stroke-width="1.1"/>
<circle cx="295.00" cy="230.60" r="2.0" fill="#a3d6e2" stroke="#1d3f4a" stroke-width="0.8"/>
<line x1="292.00" y1="301.80" x2="295.00" y2="301.80" stroke="#111" stroke-width="0.8"/>
<text x="291.00" y="303.60" font-size="5.2" text-anchor="end" font-weight="bold" fill="#222" >-80</text>
<line x1="292.00" y1="284.00" x2="295.00" y2="284.00" stroke="#111" stroke-width="0.8"/>
<text x="291.00" y="285.80" font-size="5.2" text-anchor="end" font-weight="bold" fill="#222" >-60</text>
<line x1="292.00" y1="266.20" x2="295.00" y2="266.20" stroke="#111" stroke-width="0.8"/>
<text x="291.00" y="268.00" font-size="5.2" text-anchor="end" font-weight="bold" fill="#222" >-40</text>
<line x1="292.00" y1="248.40" x2="295.00" y2="248.40" stroke="#111" stroke-width="0.8"/>
<text x="291.00" y="250.20" font-size="5.2" text-anchor="end" font-weight="bold" fill="#222" >-20</text>
<line x1="292.00" y1="230.60" x2="295.00" y2="230.60" stroke="#111" stroke-width="0.8"/>
<text x="291.00" y="232.40" font-size="5.2" text-anchor="end" font-weight="bold" fill="#222" >0</text>
<line x1="292.00" y1="212.80" x2="295.00" y2="212.80" stroke="#111" stroke-width="0.8"/>
<text x="291.00" y="214.60" font-size="5.2" text-anchor="end" font-weight="bold" fill="#222" >20</text>
<line x1="295.00" y1="301.80" x2="295.00" y2="304.80" stroke="#111" stroke-width="0.8"/>
<text x="295.00" y="311.40" font-size="5.2" text-anchor="middle" font-weight="bold" fill="#222" >0</text>
<line x1="312.83" y1="301.80" x2="312.83" y2="304.80" stroke="#111" stroke-width="0.8"/>
<text x="312.83" y="311.40" font-size="5.2" text-anchor="middle" font-weight="bold" fill="#222" >4</text>
<line x1="330.67" y1="301.80" x2="330.67" y2="304.80" stroke="#111" stroke-width="0.8"/>
<text x="330.67" y="311.40" font-size="5.2" text-anchor="middle" font-weight="bold" fill="#222" >8</text>
<line x1="348.50" y1="301.80" x2="348.50" y2="304.80" stroke="#111" stroke-width="0.8"/>
<text x="348.50" y="311.40" font-size="5.2" text-anchor="middle" font-weight="bold" fill="#222" >12</text>
<line x1="366.33" y1="301.80" x2="366.33" y2="304.80" stroke="#111" stroke-width="0.8"/>
<text x="366.33" y="311.40" font-size="5.2" text-anchor="middle" font-weight="bold" fill="#222" >16</text>
<line x1="402.00" y1="301.80" x2="402.00" y2="304.80" stroke="#111" stroke-width="0.8"/>
<text x="402.00" y="311.40" font-size="5.2" text-anchor="middle" font-weight="bold" fill="#222" >24</text>
<line x1="455.50" y1="301.80" x2="455.50" y2="304.80" stroke="#111" stroke-width="0.8"/>
<text x="455.50" y="311.40" font-size="5.2" text-anchor="middle" font-weight="bold" fill="#222" >36</text>
<text x="379.50" y="319.60" font-size="6.0" text-anchor="middle" font-weight="bold" fill="#111" >Week</text>
<text x="299.50" y="213.10" font-size="6.2" text-anchor="start" font-weight="normal" fill="#222" stroke="#222" stroke-width="0.1" >T2D Study Participants</text>
<text x="299.50" y="219.10" font-size="5.1" text-anchor="start" font-weight="normal" fill="#222" stroke="#222" stroke-width="0.1" >Baseline geometric mean [CV(%)]: 10.1 pmol/L (114.5%)</text>
<text x="460.00" y="235.60" font-size="5.2" text-anchor="start" font-weight="normal" fill="#333" stroke="#333" stroke-width="0.1" >Dula: -4.2%</text>
<text x="460.80" y="244.30" font-size="5.2" text-anchor="start" font-weight="normal" fill="#333" stroke="#333" stroke-width="0.1" >0.5 mg: -13.5%</text>
<text x="460.80" y="256.80" font-size="5.2" text-anchor="start" font-weight="normal" fill="#333" stroke="#333" stroke-width="0.1" >PBO: -27.2%</text>
<text x="460.80" y="277.60" font-size="5.2" text-anchor="start" font-weight="normal" fill="#333" stroke="#333" stroke-width="0.1" >4 mg: -50.4%*</text>
<text x="460.80" y="288.80" font-size="5.2" text-anchor="start" font-weight="normal" fill="#333" stroke="#333" stroke-width="0.1" >8 mg: -63.1%**</text>
<text x="458.80" y="297.30" font-size="5.2" text-anchor="start" font-weight="normal" fill="#333" stroke="#333" stroke-width="0.1" >12 mg: -70.5%**</text>
<text x="0" y="0" font-size="6.14" font-weight="bold" text-anchor="middle" fill="#111" transform="translate(279.30,257.40) rotate(-90)">Percent Change from Baseline Proinsulin</text>
<line x1="293.50" y1="327.30" x2="302.50" y2="327.30" stroke="#b0a4a2" stroke-width="0.8"/>
<circle cx="298.00" cy="327.30" r="1.2" fill="#b0a4a2"/>
<text x="307.00" y="329.40" font-size="6.2" text-anchor="start" font-weight="normal" fill="#333" stroke="#333" stroke-width="0.1" >PBO, N=43</text>
<line x1="343.50" y1="327.30" x2="352.50" y2="327.30" stroke="#5cc9e0" stroke-width="0.8" stroke-dasharray="2,1.3"/>
<path d="M346.20,326.00 L349.80,326.00 L348.00,329.00 Z" fill="#5cc9e0"/>
<text x="357.00" y="329.40" font-size="6.2" text-anchor="start" font-weight="normal" fill="#333" stroke="#333" stroke-width="0.1" >0.5 mg RETA, N=46</text>
<line x1="415.50" y1="327.30" x2="424.50" y2="327.30" stroke="#35bddb" stroke-width="0.8"/>
<circle cx="420.00" cy="327.30" r="1.1" fill="#35bddb"/>
<text x="429.00" y="329.40" font-size="6.2" text-anchor="start" font-weight="normal" fill="#333" stroke="#333" stroke-width="0.1" >4 mg RETA, N=41</text>
<line x1="281.50" y1="337.00" x2="290.50" y2="337.00" stroke="#2a8fa8" stroke-width="0.8"/>
<path d="M284.10,338.40 L287.90,338.40 L286.00,335.20 Z" fill="#2a8fa8"/>
<text x="295.00" y="339.10" font-size="6.2" text-anchor="start" font-weight="normal" fill="#333" stroke="#333" stroke-width="0.1" >8 mg RETA, N=49</text>
<line x1="350.50" y1="337.00" x2="359.50" y2="337.00" stroke="#0f4e5c" stroke-width="0.8"/>
<circle cx="355.00" cy="337.00" r="1.8" fill="#0f4e5c"/>
<text x="364.00" y="339.10" font-size="6.2" text-anchor="start" font-weight="normal" fill="#333" stroke="#333" stroke-width="0.1" >12 mg RETA, N=42</text>
<line x1="420.50" y1="337.00" x2="429.50" y2="337.00" stroke="#333333" stroke-width="0.8"/>
<circle cx="425.00" cy="337.00" r="1.9" fill="none" stroke="#333333" stroke-width="1.0"/>
<text x="434.00" y="339.10" font-size="6.2" text-anchor="start" font-weight="normal" fill="#333" stroke="#333" stroke-width="0.1" >Dula 1.5 mg, N=45</text>
</svg>
<div class="fn" style="left:22.6px;top:364.0px">*p&lt;0.05 vs. PBO, **p&lt;0.001 vs. PBO, at the 36-wk endpoint for the T2D trial and the 48-wk endpoint for the OB trial; RETA=retatrutide,</div>
<div class="fn" style="left:19.8px;top:372.8px">PBO=Placebo, Dula=dulaglutide; Data are least-squares means with error bars showing standard errors derived from mixed model for</div>
<div class="fn" style="left:19.8px;top:382.3px">repeated measures.</div>
</body></html>
